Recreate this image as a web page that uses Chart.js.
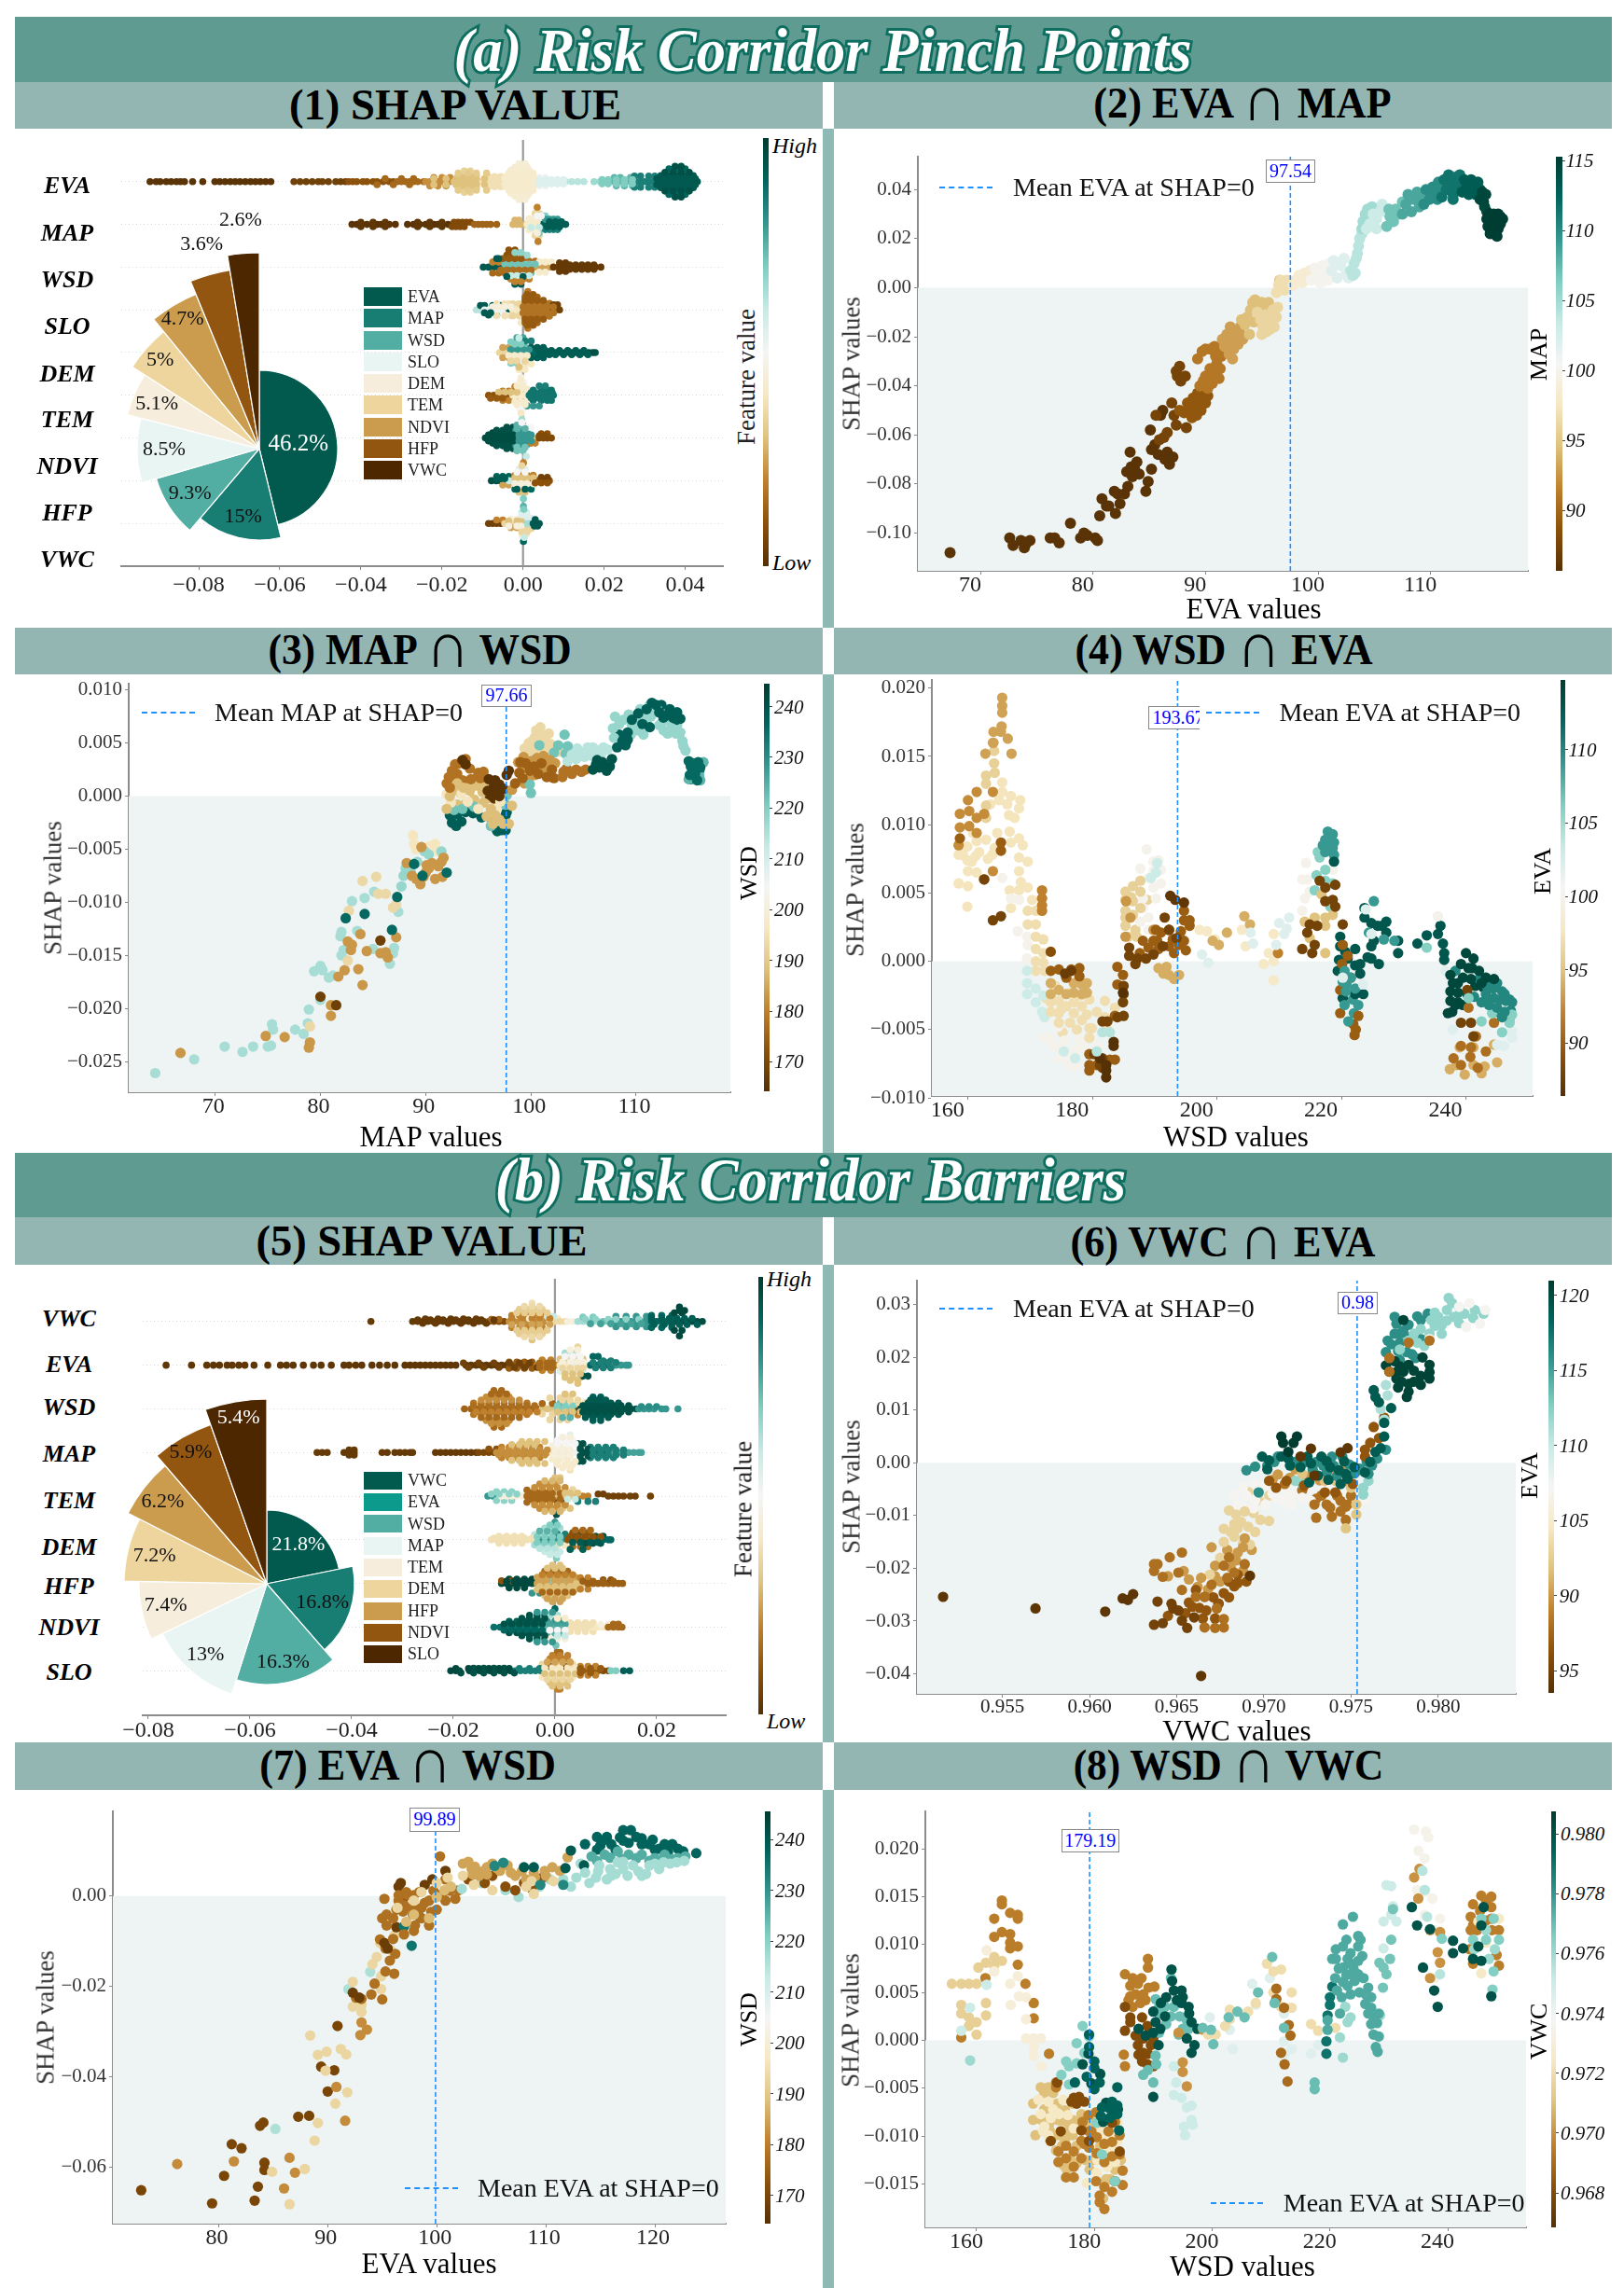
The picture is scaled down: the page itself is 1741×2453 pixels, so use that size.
<!DOCTYPE html>
<html><head><meta charset="utf-8"><title>Risk Corridor SHAP</title>
<script src="https://cdn.jsdelivr.net/npm/chart.js@4/dist/chart.umd.min.js"></script>
<style>html,body{margin:0;background:#fff}#page{position:relative;width:1741px;height:2453px;overflow:hidden;background:#fff}canvas{position:absolute}div.a{position:absolute}</style>
</head><body><div id="page"></div>
<script>
// ---------- data ----------
const featA=['EVA','MAP','WSD','SLO','DEM','TEM','NDVI','HFP','VWC'];
const shareA=[46.2,15,9.3,8.5,5.1,5,4.7,3.6,2.6];
const radiiA=[84,98,115,131,146,162,179,194,210];
const yLabA=['EVA','MAP','WSD','SLO','DEM','TEM','NDVI','HFP','VWC'];
const featB=['VWC','EVA','WSD','MAP','TEM','DEM','HFP','NDVI','SLO'];
const shareB=[21.8,16.8,16.3,13,7.4,7.2,6.2,5.9,5.4];
const radiiB=[79,94,108,124,137,153,167,181,198];
const yLabB=['VWC','EVA','WSD','MAP','TEM','DEM','HFP','NDVI','SLO'];
const swarmTicksA=[-.08,-.06,-.04,-.02,0,.02,.04];
const swarmTicksB=[-.08,-.06,-.04,-.02,0,.02];
// swarm groups: [colour fraction, row offset, shap values...]
const S1=[
[[.01,0,-.092,-.0905,-.0895,-.088,-.0868,-.0855,-.0845,-.0835,-.0815,-.079,-.076,-.0748,-.0735,-.0722,-.071,-.0698,-.0685,-.0672,-.066,-.0648,-.0635,-.0622],[.05,0,-.0565,-.055,-.0535,-.052,-.0505,-.0495,-.048,-.0462,-.045,-.0438],[.1,0,-.043,-.042,-.041,-.0395,-.0385,-.037,-.036,-.0345,-.033,-.032],[.15,0,-.031,-.03,-.029,-.028,-.027,-.026,-.0245],[.15,.07,-.034,-.03,-.027],[.15,-.07,-.036,-.032,-.028],[.22,0,-.024,-.023,-.022,-.021,-.02,-.019,-.018],[.22,.1,-.022,-.02,-.018],[.22,-.1,-.023,-.021,-.019],[.3,0,-.017,-.016,-.015,-.014,-.013,-.012,-.011],[.3,.13,-.016,-.0145,-.013,-.0115],[.3,-.13,-.016,-.0145,-.013,-.0115],[.34,.25,-.0145,-.013],[.34,-.25,-.0145,-.013],[.38,0,-.01,-.009,-.008,-.007,-.006,-.005],[.38,.12,-.0085,-.007,-.0055],[.38,-.12,-.0085,-.007,-.0055],[.42,0,-.004,-.003,-.002,-.001,0,.001,.002],[.42,.13,-.004,-.0025,-.001,.0005,.002],[.42,-.13,-.004,-.0025,-.001,.0005,.002],[.43,.27,-.003,-.0015,0,.0015],[.43,-.27,-.003,-.0015,0,.0015],[.44,.42,-.001,.0005],[.44,-.42,-.001,.0005],[.52,0,.003,.004,.005,.006,.007,.0085],[.52,.1,.0025,.004,.0055],[.52,-.1,.0025,.004,.0055],[.62,0,.009,.0105,.012,.0135,.015],[.66,0,.0175,.019,.0205,.0215],[.74,0,.0225,.0235,.0245,.0255,.0265,.0275],[.74,.1,.0225,.024,.0265],[.74,-.1,.023,.025,.027],[.85,0,.028,.029,.03,.031,.032,.033],[.85,.13,.0275,.029,.031,.0325],[.85,-.13,.0275,.029,.031,.0325],[.93,0,.034,.035,.036,.037,.038,.039,.04,.041,.042,.043],[.93,.14,.034,.036,.038,.04,.042],[.93,-.14,.034,.036,.038,.04,.042],[.9,.3,.036,.038,.04],[.9,-.3,.036,.038,.04]],
[[.01,0,-.0422,-.041,-.0398,-.0385,-.0372,-.036,-.035,-.034,-.033,-.0315,-.0285,-.027,-.0255,-.024,-.023,-.022,-.021,-.02,-.0185],[.08,.05,-.017,-.016,-.015,-.014,-.013],[.08,-.05,-.0175,-.0165,-.0155,-.0145],[.14,0,-.012,-.011,-.01,-.009,-.008,-.0065],[.28,0,-.0025,-.0015,-.0005,.0005],[.28,.1,-.002,-.001],[.42,0,.001,.002,.003],[.42,.13,.0015,.003],[.42,-.13,.0015,.003],[.35,.26,.003,.004],[.35,-.26,.003,.004],[.2,.4,.0035],[.2,-.4,.0037],[.7,.2,.004,.005,.0055],[.7,-.2,.004],[.92,0,.0045,.0055,.0065,.0075,.0085,.0095,.0105],[.8,.12,.0055,.0065,.0075,.0085],[.85,-.12,.0055,.0065,.0075,.0085]],
[[.93,0,-.0098,-.0085,-.0072,-.006,-.005],[.2,.12,-.0075,-.006,-.0045],[.15,-.14,-.0075,-.006,-.0045,-.003],[.1,.28,-.004,-.0025,-.001],[.72,0,-.004,-.003,-.002,-.001,0,.001,.002],[.16,.14,-.003,-.0015,0,.0015,.003],[.72,-.14,-.0025,-.001,.0005,.002],[.66,.28,.0005,-.0005,.001],[.2,-.28,-.003,-.0015,0,.0015],[.93,-.4,-.002,-.0005],[.1,.4,-.0035,-.002],[.92,-.06,-.003,-.001,.001],[.62,.06,-.0005,.001,.0025],[.25,0,.0025,.0035,.0045,.0055,.0065],[.42,.12,.004,.0055,.007],[.42,-.12,.004,.0055],[.03,0,.0075,.0088,.0098,.0108,.0118,.0128,.0138,.0148,.0158,.0168,.0178,.0192],[.03,.1,.009,.0105],[.03,-.1,.009,.0105]],
[[.62,0,-.0115,-.0105],[.93,.1,-.0105,-.0095,-.0075,-.0055],[.93,-.12,-.0085,-.0065],[.52,0,-.0095,-.0085,-.0075,-.0065,-.0055,-.0045],[.38,.14,-.0065,-.0045,-.0035],[.38,-.14,-.0065,-.0045,-.003],[.93,.02,-.0035],[.4,0,-.0025,-.0015,-.0005,.0005],[.35,.14,-.0025,-.001,.0005],[.35,-.14,-.0025,-.001,.0005],[.4,-.3,-.0005,.001],[.17,0,.001,.002,.003,.004,.005,.006],[.17,.15,.0005,.002,.0035,.005,.0065],[.17,-.15,.0005,.002,.0035,.005,.0065],[.14,.3,.0005,.002,.0035],[.14,-.3,.0005,.002,.0035],[.18,.43,.0012],[.18,-.43,.0012],[.05,0,.007,.008,.009],[.05,.12,.0075,.0085]],
[[.35,0,-.0058,-.0045,-.0035,-.0025,-.0015],[.25,.12,-.005,-.0035,-.002],[.25,-.12,-.005,-.0035,-.002],[.7,.25,-.003,-.0015],[.7,-.25,-.003,-.0015],[.66,0,-.001,0,.001],[.72,.13,-.001,.0005],[.5,-.13,-.001,.0005],[.78,.35,-.0015,0],[.4,-.4,-.001,.0005],[.85,.27,.0005,.002],[.4,-.27,.0005,.002],[.9,0,.002,.003,.004,.005,.006,.007,.008],[.92,.12,.002,.0035,.005],[.92,-.12,.002,.0035,.005],[.95,0,.0085,.0095,.0105,.0115,.0122,.0132,.0142,.0152,.0162,.0172,.0178]],
[[.1,0,-.0085,-.0072,-.006,-.0048,-.0035],[.2,.1,-.005,-.0035,-.002],[.2,-.12,-.005,-.0035,-.002],[.42,0,-.0025,-.0015,-.0005,.0005],[.42,.15,-.002,-.0005,.001],[.42,-.15,-.002,-.0005,.001],[.5,.3,-.001,.0003],[.5,-.3,-.001,.0003],[.45,.42,-.0005],[.4,-.42,-.0005],[.2,.2,-.002],[.87,0,.0015,.0025,.0035,.0045,.0055,.0065,.0075],[.87,.12,.0025,.0045,.006,.007],[.87,-.12,.0025,.0045,.006,.007],[.8,-.25,.001,.0025,.004]],
[[.96,0,-.0093,-.008,-.007,-.006,-.005,-.004,-.003,-.002],[.96,.12,-.0075,-.006,-.0045,-.003],[.96,-.12,-.0075,-.006,-.0045,-.003],[.95,.25,-.004,-.0025],[.95,-.25,-.004,-.0025],[.8,0,-.001,0,.001,.0018],[.8,.15,-.002,-.0005,.001],[.8,-.15,-.002,-.0005,.001],[.75,.3,-.0015,0],[.72,-.3,-.0015,0],[.65,.43,-.0003],[.6,-.43,.0008],[.5,.25,.001,.002],[.3,0,.0025,.0035],[.2,-.12,.002,.003],[.08,0,.004,.005,.006,.007],[.1,.1,.0045,.006]],
[[.95,0,-.0078,-.0066,-.0056,-.0045],[.9,.1,-.0065,-.005,-.0035],[.25,-.1,-.005,-.0035],[.6,0,-.0035,-.0025],[.3,0,-.0015,-.0005,.0005,.0015],[.2,.13,-.002,-.0005,.001,.0025],[.4,-.13,-.002,-.0005,.001,.0025],[.55,.27,-.001,.0005],[.3,-.27,-.001,.0005],[.2,.42,.0001],[.7,-.42,.0001],[.9,-.2,-.002,.002],[.1,0,.0025,.0035,.0045,.0055,.0065],[.05,.08,.0045,.006]],
[[.05,0,-.0085,-.0075,-.0065,-.0055],[.2,.08,-.0065,-.005],[.35,0,-.0045,-.0035,-.0025,-.0015,-.0005],[.45,.1,-.003,-.0015],[.25,-.1,-.003,-.0015],[.55,.12,-.0003,.0008,.002],[.35,-.12,-.0003,.0008,.002],[.6,.26,-.0003,.0008],[.42,-.26,-.0003,.0008],[.75,.4,.0001],[.9,-.42,.0001],[.65,0,.0005,.0015],[.93,0,.0025,.0033,.004],[.93,.09,.003]]
];
const S1x=[
[[.3,.07,-.022,-.019,-.0165,-.0155,-.0135,-.0115,-.0095],[.3,-.07,-.022,-.019,-.0165,-.0155,-.0135,-.0115,-.0095],[.32,.2,-.016,-.0135,-.0115,-.009],[.32,-.2,-.016,-.0135,-.0115,-.009],[.42,.07,-.0045,-.003,-.0015,0,.0015,.003],[.42,-.07,-.0045,-.003,-.0015,0,.0015,.003],[.42,.2,-.0035,-.002,-.0005,.001,.0025],[.42,-.2,-.0035,-.002,-.0005,.001,.0025],[.43,.34,-.002,-.0005,.001],[.43,-.34,-.002,-.0005,.001],[.55,.05,.004,.0055,.007,.0085,.01],[.55,-.05,.004,.0055,.007,.0085,.01],[.7,.05,.0195,.021,.023,.025,.027],[.7,-.05,.0195,.021,.023,.025,.027],[.93,.07,.033,.035,.037,.039,.041,.0425],[.93,-.07,.033,.035,.037,.039,.041,.0425],[.95,.22,.035,.037,.039,.041],[.95,-.22,.035,.037,.039,.041],[.95,.36,.0375,.039],[.95,-.36,.0375,.039]],
[[.02,.05,-.04,-.037,-.034,-.026,-.023,-.02],[.02,-.05,-.04,-.037,-.034,-.026,-.023,-.02],[.42,.07,.002,.0035],[.6,-.07,.002,.004],[.5,.2,.0035,.0045],[.45,-.2,.0035],[.92,.06,.0065,.008,.0095],[.92,-.06,.006,.0075,.009]],
[[.72,.07,-.0045,-.003,-.0015,0,.0015,.003],[.16,-.07,-.0055,-.004,-.0025,-.001,.0005,.002],[.12,.2,-.005,-.0035,-.002,-.0005],[.6,-.2,-.003,-.0015,0,.0015],[.93,.2,-.0065,-.006],[.93,-.22,-.004,0],[.68,.34,-.002,-.0005],[.2,-.34,-.002,-.0005],[.03,.05,.0115,.013,.0145,.016,.0175],[.03,-.05,.0115,.013,.0145,.016,.0175]],
[[.17,.07,0,.0015,.003,.0045,.006,.0075],[.17,-.07,0,.0015,.003,.0045,.006,.0075],[.12,.22,.0005,.002,.0035,.005],[.12,-.22,.0005,.002,.0035,.005],[.12,.36,.001,.0025],[.12,-.36,.001,.0025],[.45,.07,-.0075,-.006,-.0045,-.003],[.93,-.07,-.0095,-.008]],
[[.8,.07,-.003,-.0015,0,.0015],[.42,-.07,-.0035,-.002,-.0005,.001],[.7,.2,-.002,-.0005],[.35,-.2,-.003,-.0015,.0005],[.6,.34,-.001],[.3,-.34,-.001],[.92,.05,.004,.0055,.007,.009,.011,.013,.015],[.92,-.05,.005,.0065,.008,.01,.012,.014,.016]],
[[.3,.07,-.006,-.0045,-.003,-.0015],[.12,-.07,-.008,-.0065,-.005],[.42,.22,-.0015,0],[.42,-.22,-.0015,.0005],[.42,.36,-.0005],[.87,.06,.002,.003,.0045,.006,.0072],[.87,-.06,.002,.0035,.0055,.0068],[.85,.22,.004,.0055]],
[[.96,.07,-.0085,-.007,-.0055,-.004,-.0025],[.96,-.07,-.0085,-.007,-.0055,-.004,-.0025],[.95,.18,-.0065,-.005,-.0035],[.95,-.18,-.0065,-.005,-.0035],[.8,.07,-.001,.0005,.002],[.8,-.07,-.001,.0005,.002],[.75,.22,-.0015,.0005],[.72,-.22,-.0015,.0005],[.5,.36,-.0003],[.08,.05,.004,.0055]],
[[.92,.05,-.0065,-.0055,-.0045],[.3,.07,-.002,-.0005,.001,.0025],[.45,-.07,-.002,-.0005,.001,.0025],[.5,.2,-.0015,.0005],[.92,-.2,-.0015,.0005],[.35,.35,-.0003],[.1,-.05,.003,.0045,.006]],
[[.3,.06,-.0035,-.0015,-.0005],[.45,-.06,-.0035,-.0015,-.0005],[.55,.2,-.0003,.001],[.35,-.2,-.0003,.001],[.7,.33,.0002],[.6,-.33,.0003],[.93,-.06,.0028,.0036]]
];
const S5=[
[[.03,0,-.0362],[.03,0,-.028,-.027,-.026,-.025,-.024,-.023,-.022,-.021,-.02,-.019,-.018,-.017,-.016,-.015,-.014],[.03,.06,-.0255,-.023,-.0205,-.018,-.0155],[.08,0,-.013,-.012,-.011,-.01],[.15,.05,-.0125,-.011],[.22,0,-.009,-.008,-.007,-.006,-.005,-.004,-.003,-.002],[.2,.14,-.0085,-.007,-.0055,-.004,-.0025],[.2,-.14,-.0085,-.007,-.0055,-.004,-.0025],[.33,.28,-.007,-.0055,-.004,-.0025],[.33,-.28,-.007,-.0055,-.004,-.0025],[.38,.42,-.0045],[.3,-.42,-.0045],[.4,.07,-.005,-.003,-.001,.0005],[.36,0,-.001,0,.001,.002],[.6,.12,-.0015,-.0003],[.45,0,.0025,.0035],[.65,0,.0045,.0055,.0065,.0075,.0085],[.7,.1,.0055,.0075],[.72,0,.0095,.0105,.0115],[.8,0,.012,.013,.014,.015,.016,.017,.018],[.8,.12,.012,.014,.016,.018],[.8,-.12,.012,.014,.016,.018],[.9,0,.019,.02,.021,.022,.023],[.9,.14,.019,.021,.023],[.9,-.14,.019,.021,.023],[.96,0,.024,.025,.026,.027,.028,.029],[.97,.2,.0235,.025],[.97,-.2,.0235,.025],[.97,.33,.0245],[.97,-.33,.0245]],
[[.02,0,-.0765,-.0715,-.0685,-.0672,-.066,-.0645,-.0635,-.0622,-.061,-.0592,-.0565,-.054,-.0528,-.0515,-.0495,-.0475,-.046,-.044,-.0415,-.0405,-.0392,-.038,-.036,-.0345,-.033,-.0315,-.0295,-.0285,-.0275,-.0265,-.0255,-.0245,-.0235,-.0225,-.0215,-.0205,-.0195,-.0175,-.0165,-.0155,-.0145,-.0135,-.0125,-.0115,-.0105,-.0095],[.06,0,-.0085,-.0075,-.0065,-.0055,-.0045],[.12,.07,-.009,-.0075,-.006,-.0045],[.12,-.07,-.009,-.0075,-.006,-.0045],[.2,0,-.0035,-.0025,-.0015,-.0005,.0002],[.2,.12,-.0025,-.0008],[.2,-.12,-.0025,-.0008],[.4,0,.001,.002,.003,.004],[.3,.14,.001,.0025,.004,.0055],[.55,-.14,.001,.0025,.004,.0055],[.65,.28,.002,.0035],[.3,-.28,.002,.0035,.005],[.35,.42,.0045],[.3,-.42,.0045],[.4,0,.005,.006],[.55,.06,.005,.0035],[.95,-.25,.0065,.0055],[.9,.2,.0075,.0085],[.9,0,.007,.008,.009,.01],[.85,.1,.0095,.011],[.8,0,.011,.012,.013,.014,.0145]],
[[.14,0,-.0178,-.0165,-.0155,-.0145,-.0135,-.0125,-.0115,-.0105,-.0095,-.0085,-.0075,-.0065,-.0055,-.0045,-.0035],[.18,.13,-.016,-.0145,-.013,-.0115,-.01,-.0085,-.007,-.0055],[.18,-.13,-.016,-.0145,-.013,-.0115,-.01,-.0085,-.007,-.0055],[.22,.27,-.0135,-.012,-.0105,-.009],[.22,-.27,-.0135,-.012,-.0105,-.009],[.15,.42,-.012,-.0105],[.15,-.42,-.012,-.0105],[.3,0,-.0025,-.0015,-.0005],[.15,.12,-.0025,-.0005],[.35,-.12,-.0025,-.0005,.001],[.35,.25,-.001,.001,.0025],[.35,-.25,-.001,.001,.0025],[.7,0,.0005,.0015,.0025],[.75,.12,.001,.0025],[.3,0,.0035,.0045],[.38,.14,.003,.0045,.006],[.2,-.14,.003,.0045,.006],[.05,-.05,.004],[.95,0,.005,.006,.007,.008,.009,.01,.011,.012,.013,.014,.015,.016],[.93,.13,.0065,.008,.0095,.011,.0125],[.93,-.13,.0065,.008,.0095,.011,.0125],[.92,.27,.0075,.009],[.92,-.27,.0075,.009],[.8,0,.0165,.0175,.0185,.0195,.021,.0218],[.8,0,.0242]],
[[.03,0,-.0468,-.0458,-.0448,-.0415,-.0405,-.0395,-.0398,-.034,-.033,-.0315,-.0305,-.0295,-.0285,-.028,-.0235,-.0225,-.0215,-.0205,-.0195,-.0185,-.0175,-.0165,-.0155],[.03,.06,-.0405,-.0395],[.03,-.06,-.0405,-.0395],[.07,0,-.015,-.014,-.013,-.012],[.1,.08,-.013,-.0115],[.22,0,-.0115,-.0105,-.0095,-.0085,-.0075,-.0065,-.0055,-.0045,-.0035,-.0025,-.0015],[.2,.12,-.0105,-.009,-.0075,-.006,-.0045,-.003],[.2,-.12,-.0105,-.009,-.0075,-.006,-.0045,-.003],[.3,.25,-.0065,-.005,-.0035,-.002],[.3,-.25,-.0065,-.005,-.0035,-.002],[.42,0,-.0005,.0005,.0015,.0025],[.45,.15,-.0005,.001,.0025],[.42,-.15,-.0005,.001,.0025],[.5,.28,.0005,.002,.0035],[.42,-.28,.0005,.002,.0035],[.55,.4,.003],[.38,-.4,.003],[.52,0,.0035,.0045],[.95,.2,.0045,.0055],[.95,-.2,.0048,.0055],[.95,0,.0055,.0065,.0075],[.88,0,.0085,.0095,.0105],[.85,.12,.007,.0085,.01,.0115],[.85,-.12,.007,.0085,.01,.0115],[.78,0,.0115,.0125,.0135,.0145,.0155,.0165,.017]],
[[.8,0,-.0132,-.0122],[.68,.1,-.0115,-.01,-.0085],[.68,-.1,-.0115,-.01,-.0085],[.45,0,-.0105,-.0095,-.0085,-.0075,-.0065],[.15,0,-.0055,-.0045,-.0035,-.0025,-.0015,-.0005],[.15,.14,-.0055,-.004,-.0025,-.001],[.15,-.14,-.0055,-.004,-.0025,-.001],[.22,.28,-.003,-.0015,0],[.22,-.28,-.003,-.0015,0],[.3,.42,0,.001],[.95,-.42,.0003],[.3,0,.0005,.0015,.0025,.0035],[.35,.15,.0005,.002,.0035],[.03,-.15,.0005,.002],[.3,-.28,.0015,.003],[.2,0,.0045,.0055,.0065],[.85,-.12,.0045,.0065,.008],[.05,.05,.0085,.0095],[.05,0,.0105,.0115,.0125,.0135,.0148,.0158,.0188]],
[[.38,0,-.0125,-.0115,-.0105,-.0095,-.0085,-.0075,-.0065,-.0055,-.0045,-.0035],[.38,.08,-.011,-.0095,-.008,-.0065],[.38,-.08,-.011,-.0095,-.008,-.0065],[.62,.12,-.004,-.0025,-.001],[.65,-.12,-.004,-.0025,-.001],[.8,0,-.0025,-.0015,-.0005,.0005,.0015],[.65,.27,-.002,-.0005,.001],[.6,-.27,-.002,-.0005,.001],[.8,.4,0],[.7,-.42,.0003],[.85,.13,.0005,.002,.0035],[.4,-.13,.0005,.002,.0035],[.1,0,.0025,.0035,.0045,.0055,.0065,.0075],[.1,.16,.0035,.005,.0065],[.15,-.16,.0035,.005,.0065],[.95,-.08,.006,.0075,.009],[.95,.08,.0045,.008,.0095],[.9,0,.0085,.0095,.0105,.011]],
[[.97,0,-.0105,-.0095,-.0085,-.0075,-.0065,-.0055,-.0045],[.97,.1,-.009,-.0075,-.006,-.0045],[.97,-.1,-.009,-.0075,-.006],[.1,.06,-.0105,-.0085],[.8,-.22,-.0045,-.003],[.25,0,-.0035,-.0025,-.0015,-.0005,.0005,.0015,.0025],[.25,.14,-.0035,-.002,-.0005,.001,.0025,.004],[.3,-.14,-.0035,-.002,-.0005,.001,.0025,.004],[.15,.28,-.002,-.0005,.001,.0025],[.3,-.28,-.002,-.0005,.001,.0025],[.3,.42,-.0005,.001],[.25,-.42,-.0005,.001],[.7,.07,-.001,.0015],[.3,0,.0035,.0045,.0055],[.2,.13,.005,.0065],[.2,-.13,.005,.0065],[.13,0,.0065,.0075,.0085,.0095,.0105,.0115,.0125,.0133],[.1,.08,.0095,.011]],
[[.88,0,-.012,-.0108,-.0095,-.0085,-.0075,-.0065,-.0055,-.0045,-.0035],[.92,.13,-.009,-.0075,-.006,-.0045,-.003],[.95,-.13,-.009,-.0075,-.006,-.0045,-.003],[.95,.27,-.005,-.0035,-.002],[.95,-.27,-.005,-.0035,-.002],[.75,0,-.0025,-.0015,-.0005,.0005,.0015],[.8,.14,-.0015,0,.0015],[.75,-.14,-.0015,0,.0015],[.65,.27,-.001,.0005],[.45,-.27,-.001,.0005,.002],[.9,.42,0],[.72,-.42,.0002],[.38,0,.0025,.0035,.0045,.0055,.0065],[.38,.1,.003,.0045,.006,.0075],[.38,-.1,.003,.0045,.006,.0075],[.4,0,.0075,.0085,.0095],[.45,.06,.009,.0105],[.15,0,.0105,.0115,.0125,.0132],[.15,.07,.0115,.0125]],
[[.97,0,-.0205,-.0195,-.0188,-.0168,-.0158,-.0148,-.0138,-.0128,-.0118,-.0108,-.0098,-.0088],[.85,0,-.0078,-.0068,-.0058,-.0048,-.0038,-.0028],[.95,.06,-.016,-.014,-.012,-.01],[.42,0,-.002,-.001,0,.001,.002,.003,.004],[.35,.15,-.0025,-.001,.0005,.002,.0035],[.4,-.15,-.0025,-.001,.0005,.002,.0035],[.2,.27,-.001,.0005,.002],[.3,-.27,-.001,.0005,.002],[.15,.42,.0005,.001],[.2,-.42,.0005,.001],[.05,.1,-.001,.002],[.12,0,.0045,.0055,.0065,.0075,.0085],[.2,.1,.005,.0065,.008],[.2,-.1,.005,.0065,.008],[.08,0,.0095,.0105],[.7,0,.011,.012],[.92,0,.0135,.0147]]
];
const S5x=[
[[.2,.07,-.0085,-.0065,-.0045,-.003,-.001],[.25,-.07,-.0085,-.0065,-.0045,-.003,-.001],[.33,.2,-.0075,-.006,-.0045,-.003,-.0015],[.33,-.2,-.0075,-.006,-.0045,-.003,-.0015],[.36,.35,-.006,-.0045,-.003],[.36,-.35,-.006,-.0045,-.003],[.03,.04,-.027,-.0245,-.022,-.0195,-.017,-.0145,-.012],[.03,-.04,-.026,-.0235,-.021,-.0185,-.016,-.0135],[.68,.05,.006,.008,.0105,.012,.014,.0165],[.78,-.05,.007,.009,.011,.013,.015,.017],[.92,.07,.019,.021,.0225,.024,.0255,.027],[.92,-.07,.0195,.0215,.023,.0245,.026,.028],[.97,.25,.0245,.0255]],
[[.05,.05,-.018,-.015,-.012,-.009,-.007,-.005],[.05,-.05,-.017,-.014,-.011,-.008,-.006,-.0035],[.15,.05,-.003,-.0015,-.0005],[.15,-.05,-.003,-.0015,-.0005],[.45,.07,.0015,.003,.0045,.0055],[.35,-.07,.0015,.003,.0045,.0055],[.5,.2,.002,.0035,.005],[.3,-.2,.002,.0035,.005],[.45,.35,.003,.0045],[.3,-.35,.003,.0045],[.85,.06,.0075,.009,.0105,.012],[.85,-.06,.008,.0095,.011]],
[[.16,.07,-.016,-.0145,-.013,-.0115,-.01,-.0085,-.007,-.0055,-.004],[.2,-.07,-.0155,-.014,-.0125,-.011,-.0095,-.008,-.0065,-.005,-.0035],[.22,.2,-.0145,-.013,-.0115,-.01,-.0085,-.007],[.15,-.2,-.0145,-.013,-.0115,-.01,-.0085,-.007],[.15,.34,-.0125,-.011,-.0095],[.22,-.34,-.0125,-.011,-.0095],[.7,.07,.0005,.002,.0035],[.3,-.07,.0005,.002,.0035,.005],[.35,.2,.0015,.003,.0045],[.75,-.2,.0015,.003],[.3,.34,.002,.0035],[.95,.07,.0055,.007,.0085,.01,.0115,.013,.0145],[.95,-.07,.0055,.007,.0085,.01,.0115,.013,.0145],[.93,.2,.007,.0085,.01],[.93,-.2,.006,.0075,.009,.0105],[.82,.05,.017,.0185,.02]],
[[.22,.06,-.0105,-.009,-.0075,-.006,-.0045,-.003,-.0015],[.22,-.06,-.011,-.0095,-.008,-.0065,-.005,-.0035,-.002],[.3,.18,-.0085,-.007,-.0055,-.004],[.3,-.18,-.0085,-.007,-.0055,-.004],[.45,.07,0,.0015,.003],[.45,-.07,0,.0015,.003],[.5,.2,.0005,.0025,.004],[.42,-.2,.0005,.0025,.004],[.45,.35,.0015,.003],[.42,-.35,.0015,.003],[.95,.08,.005,.0065],[.95,-.08,.005,.0065],[.85,.06,.0075,.009,.0105,.012,.0135],[.85,-.06,.0075,.009,.0105,.012,.0135]],
[[.15,.07,-.005,-.0035,-.002,-.0005,.001],[.15,-.07,-.005,-.0035,-.002,-.0005,.001],[.22,.2,-.004,-.0025,-.001,.0005,.002],[.22,-.2,-.004,-.0025,-.001,.0005,.002],[.28,.35,-.002,-.0005,.001],[.28,-.35,-.002,-.0005,.001],[.3,.07,.002,.003,.0045],[.6,-.07,.0025,.004],[.68,.05,-.0125,-.011,-.009,-.0075]],
[[.38,.04,-.012,-.0105,-.009,-.0075,-.006,-.0045],[.7,.07,-.0035,-.002,-.0005,.001],[.7,-.07,-.0035,-.002,-.0005,.001],[.75,.2,-.003,-.0015,0],[.62,-.2,-.003,-.0015,0],[.7,.34,-.001,.0005],[.6,-.34,-.001,.0005],[.1,.07,.003,.0045,.006,.0075,.009],[.93,-.06,.0035,.005,.007,.0085],[.15,.22,.004,.0055,.007],[.92,-.22,.003,.0055]],
[[.97,.05,-.0095,-.008,-.0065,-.005],[.25,.07,-.003,-.0015,0,.0015,.003],[.3,-.07,-.003,-.0015,0,.0015,.003],[.2,.2,-.0025,-.001,.0005,.002,.0035],[.15,-.2,-.0025,-.001,.0005,.002,.0035],[.3,.35,-.0015,0,.0015],[.25,-.35,-.0015,0,.0015],[.13,.05,.0055,.0075,.0095,.0115]],
[[.95,.07,-.01,-.0085,-.007,-.0055,-.004,-.0025],[.9,-.07,-.01,-.0085,-.007,-.0055,-.004,-.0025],[.95,.2,-.0065,-.005,-.0035,-.002],[.95,-.2,-.0065,-.005,-.0035,-.002],[.8,.34,-.0035,-.002,-.0005],[.8,-.34,-.0035,-.002,-.0005],[.78,.07,-.001,.0005,.002],[.5,-.07,-.001,.0005,.002],[.42,.2,.0005,.002],[.6,-.2,.0005,.002],[.38,.05,.0035,.0055,.007]],
[[.97,.05,-.0195,-.017,-.015,-.013,-.011,-.009],[.95,-.05,-.0185,-.016,-.014,-.012,-.01,-.008],[.85,.05,-.007,-.005,-.003],[.4,.07,-.002,-.0005,.001,.0025,.004],[.3,-.07,-.002,-.0005,.001,.0025,.004],[.25,.2,-.0015,0,.0015,.003],[.35,-.2,-.0015,0,.0015,.003],[.2,.35,-.0005,.001,.0025],[.3,-.35,-.0005,.001,.0025],[.12,.05,.005,.007,.009],[.12,-.05,.005,.007]]
];
// scatter groups: [colour value, [x,y,x,y...]]
const P2=[
[86,[67.3,-.108,72.6,-.102,72.9,-.105,73.6,-.103,73.9,-.106,74.1,-.104,74.4,-.103,76.2,-.102,76.6,-.102,77,-.104,78,-.096,78.9,-.102,79.2,-.1,79.5,-.101,80.2,-.102,80.4,-.103,80.6,-.093,80.8,-.086,81.2,-.089,81.4,-.089,81.9,-.083,82,-.092,82.2,-.084,82.4,-.088,82.8,-.084,83,-.075,83.1,-.081,83.3,-.067,83.4,-.073,83.5,-.077,83.7,-.074,83.9,-.071,84.1,-.076,84.7,-.083,84.9,-.079,85.2,-.074,85.1,-.058,85.2,-.066,85.5,-.064,85.8,-.068,86,-.052,86.2,-.05,86.4,-.07,86.6,-.067,86.8,-.072,87.1,-.069]],
[87.5,[85.6,-.052,85.9,-.062,86.3,-.061,86.6,-.059,87,-.047,87.2,-.052,87.4,-.056,87.4,-.034,87.5,-.036,87.7,-.032,87.8,-.038,88.2,-.036,88.3,-.057]],
[89,[87.7,-.05,88.1,-.051,88.4,-.047,88.6,-.05,88.8,-.053,89,-.048,89.2,-.052,89.4,-.046,89.6,-.05,89.8,-.045,90,-.047,90.2,-.044,88.9,-.045,89.3,-.043,89.7,-.042]],
[91,[89.5,-.04,89.8,-.038,90,-.036,90.2,-.041,90.4,-.033,90.6,-.039,90.8,-.036,91,-.031,91.2,-.037,91.3,-.033,90.9,-.028,91.1,-.025,89.3,-.029,89.7,-.026,90,-.025,90.4,-.025,90.8,-.024,91.4,-.028]],
[93,[91.5,-.021,91.7,-.024,91.9,-.019,92.1,-.027,92.2,-.022,92.4,-.018,92.5,-.025,92.7,-.02,92.9,-.023,93,-.018,93.1,-.016,92.2,-.016,93.3,-.021,92.4,-.029]],
[94.5,[93.2,-.013,93.5,-.015,93.7,-.012,93.9,-.019,94,-.009,94.2,-.006,94.4,-.005,94.3,-.014,94.7,-.007,95,-.006,95.3,-.008,95.6,-.006,96.6,.003]],
[96,[94.6,-.01,94.9,-.013,95.1,-.016,95.3,-.011,95.5,-.014,95.7,-.017,95.9,-.012,96,-.009,95,-.019,95.4,-.018,96.1,-.016,96.3,-.012,96.4,-.008]],
[96.8,[96.3,-.002,96.5,.001,96.7,.003,97,-.001,97.2,.003,96.9,.002,97.4,.002]],
[98.5,[97.8,.001,98,.003,98.3,.005,98.6,.002,98.8,.006,99.1,.004,99.3,.007]],
[100,[99.4,.003,99.7,.008,99.9,.005,100.2,.002,100.4,.009,100.6,.006,100.9,.003,101,.01]],
[102,[101.2,.007,101.4,.011,101.7,.004,102,.009,102.3,.012,102.5,.006,102.7,.004]],
[104,[102.9,.007,103.1,.005,103.2,.01,103.3,.006,103.4,.012,103.5,.014,103.6,.017,103.7,.02,103.9,.022]],
[105,[103.9,.024,104,.027,104.2,.03,104.4,.032,104.6,.028,104.8,.033]],
[103,[104.3,.024,104.6,.026,104.9,.03,105.2,.028,105.5,.031,105.7,.034,105.2,.024,106,.031]],
[107,[106.1,.025,106.4,.029,106.7,.027,106.9,.032,107.2,.03,107.5,.035,106.3,.032]],
[108.5,[107.5,.03,107.8,.034,108,.038,108.3,.031,108.5,.036,108.8,.039,109,.033,109.2,.037]],
[110,[109.4,.034,109.6,.04,109.9,.036,110.2,.041,110.4,.038,110.7,.043,110.9,.04,110.6,.036]],
[111.5,[111,.037,111.2,.044,111.4,.04,111.6,.046,111.8,.042,112,.038,112.2,.045,112.4,.041,112,.036,112.6,.046]],
[113,[112.8,.039,113,.044,113.2,.041,113.4,.038,113.6,.044,113.8,.041,114,.038,114.2,.043,114.4,.04]],
[114.5,[114.4,.036,114.6,.039,114.7,.035,114.9,.038,114.8,.033,115,.031]],
[115.2,[115,.028,115.2,.03,115.4,.027,115.6,.03,115.8,.028,116,.03,116.2,.029,116.4,.028,115.1,.025,115.4,.024,115.7,.023,116,.024,116.2,.026,115.6,.026,115.3,.022,115.9,.021]]
];
const P3=[
[188,[92.6,.0005,93.3,.0003,94.6,-.0003,95.5,-.0006,96.2,-.0002,93.8,-.0007,94.2,.0012,92.5,-.0012,93,-.0008,95.7,.0015,96.8,-.0007]],[165,[96,.0002,96.5,-.0002,96.8,.0005,95.5,.0012,96.3,.0013,97.2,.0003,96.6,.0015]],[178,[92,.0012,93,.0021,93.5,.0015,94.7,.0016,92.8,.0017]],[183,[99.2,.0026,99.8,.0016,100.4,.002,100.9,.0027,101.4,.0026,102,.0032,99.4,.0012,101.9,.0018]],[193,[100,.0042,100.5,.0062,101,.0049,101.3,.0047,102,.0041]],[218,[109.5,.0058,110.2,.0062,110.7,.0058,111.4,.0075,112.5,.007,113.3,.0069,113.9,.0067]],[238,[108.4,.0058,109.2,.0053,110.4,.0072,112.4,.0086,113.2,.0082,113.8,.0072]],[214,[104.4,.0045,105.4,.0046,106,.0041,106.7,.004]],[236,[115.2,.0016,115.5,.0031,116,.0024,115.7,.0018]],
[216,[64.3,-.0261,68,-.0248,70.9,-.0236,72.6,-.0241,73.6,-.0236,75,-.0236,75.3,-.0235,75.4,-.0215,75.5,-.022,77.6,-.022,78.4,-.0224,78.8,-.0214,78.9,-.0201,80,-.0192,79.4,-.0165,80,-.016,80.2,-.0164,80.8,-.0171,81.2,-.0169,82,-.015,82.2,-.0145,81.9,-.0132,82,-.0128,83.5,-.0127,83,-.0099,84.2,-.0096,85.1,-.009,85,-.0144,86.6,-.0158,86.9,-.0148,87,-.0143,87.4,-.0109]],
[183,[66.7,-.0242,74.8,-.0226,76.6,-.0227,79,-.0232,78.9,-.0237,81,-.0197,81,-.0207,83.6,-.0163,82.3,-.0164,81.7,-.017,82.9,-.0145,82.6,-.0137,83,-.014,83.8,-.013,84,-.0178,86.2,-.0147,86.4,-.0152,87.2,-.0133,84.4,-.0146,85.7,-.0148]],
[193,[79,-.0217,82.6,-.0155,82.7,-.0108,85.5,-.0092,86.2,-.0092,84,-.008,85.3,-.0076,86.9,-.0105,87.2,-.0102]],
[168,[80,-.0189,81.5,-.0197,85.7,-.0136]],
[236,[82.4,-.0115,84.2,-.0111,86.8,-.0126,87.3,-.0095]],
[196,[88.8,-.0037,88.9,-.0045,89.1,-.005,90.9,-.0045,91.2,-.0052,90.4,-.0047]],
[218,[87.7,-.0085,87.9,-.0075,88.1,-.0068,88.6,-.0072,89.2,-.0062,89.9,-.0052,91.5,-.0052,90.3,-.0055]],
[183,[88.2,-.0063,88.7,-.0075,89.1,-.0078,89.5,-.0083,89.8,-.0076,90,-.0072,90.3,-.0068,90.6,-.0063,90.9,-.0078,91.2,-.0066,91.5,-.0062,91.6,-.0076,89.6,-.0048,90.1,-.0065,91.7,-.0058]],
[236,[88.9,-.0064,89.7,-.0075,92,-.0072]],
[238,[92.3,-.0018,92.5,-.0025,92.9,-.0028,93.4,-.0024,93,-.0017,93.8,-.0015,94.5,-.0016,95.3,-.002,96,-.0019,96.8,-.0033,97.2,-.0032,97.6,-.0032,97.6,-.0018,97.7,-.0015]],
[222,[92.7,-.0013,93.5,-.0012,94.6,-.001,97.6,-.0008,97.7,.0001,96.2,-.0028]],
[196,[92,.0002,92.4,-.0006,93.4,.0002,94,-.0005,95,-.0012,96.7,-.0012,97.1,-.0005]],
[188,[92,-.0012,92.3,0,93,.0012,93.6,.0008,94.2,.0005,94.8,.001,95.4,.0004,95.9,.0009,96.2,-.0012,96.6,-.0018,97,-.0022,97.4,-.0026,95.8,-.0019,96.4,-.0026,95.3,.0012,97.9,-.0026,98.2,-.0009]],
[178,[92.2,.0018,92.5,.0024,92.8,.003,93.2,.0031,93.8,.0035,94.2,.0026,95,.0022,95.5,.0023,92.3,.0008,94.3,.0016,95.2,.0017]],
[165,[93.5,.0034,93.8,.003,96,.0016,96.5,.001,96.7,.0005,97,0,96.3,0,97,.0011,97.4,.0007,97.7,.002,97.9,.0024,96.4,.0006,95.9,.0005]],
[193,[99.4,.0045,99.8,.005,100.1,.0052,100.4,.0056,100.9,.0065,101,.0058,101.4,.0053,101.7,.0059,101.9,.0049,102.4,.0045,102.7,.0042,100.6,.0045]],
[222,[100,.0003,99.9,.0011,100.5,.0035,100.8,.0048,102.2,.0041,102.6,.0048,103.2,.0058,103.3,.004,103.5,.0047]],
[183,[98.2,.0006,98.8,.0032,99.3,.0037,100,.0033,100.6,.0036,101.2,.0038,101.8,.0034,102.3,.0031]],
[175,[98.5,.0012,98.9,.0022,99.2,.0017,99.5,.0031,99.9,.0024,100.3,.0028,100.7,.0021,101,.0031,101.5,.0018,102,.0025,102.2,.0017,99,.0032]],
[178,[103.1,.0023,103.4,.0026,103.9,.0021,104.3,.0025,104.8,.0023,105.2,.0025,103,.0018]],
[214,[103.5,.0033,103.9,.0039,104.3,.0035,104.7,.0042,105.1,.0037,105.5,.0041,105.9,.0046,106.4,.0043,106.9,.0046,107.3,.0044,105.8,.0038]],
[240,[105.9,.0025,106.2,.003,106.5,.0027,106.8,.0032,107.2,.0024,107.5,.0028,106.3,.0034,107.7,.0035]],
[218,[107.8,.0064,107.9,.0055,108,.0075,108.4,.0068,108.8,.0072,109.3,.0077,109.6,.0067,110,.007,110.4,.0082,110.8,.0075,111.3,.0086,111.6,.0078,112,.0082,112.2,.0067,112.6,.0062,113,.0059,113.4,.0064,113.8,.0059,114.2,.006,114.4,.0052,114.5,.0047,114.7,.0043,111,.0068,112.8,.0075]],
[238,[108.2,.0046,108.7,.0052,109,.0048,109.2,.006,109.6,.0072,110.2,.0078,110.6,.0068,111,.0082,111.5,.0088,111.9,.0086,112.2,.0079,112.6,.0074,113,.0077,113.5,.0074,113.9,.0079,114.2,.0073,111.3,.0065]],
[224,[115,.0016,115.3,.003,115.7,.0028,116,.0019,116.4,.0032,115.5,.0017,116.1,.0015]],
[236,[115,.0033,115.2,.0028,115.4,.0025,115.6,.0021,115.9,.0032,116.1,.0027,115.1,.002,115.8,.0015]]
];
const P4=[
[97.5,[159.2,.0078,160.6,.0073,161.8,.008,163.2,.0075,160.8,.0094,164.7,.0094,166.3,.0115,167.5,.0105,163.6,.0115,165,.0118,168.8,.0085,168.5,.0058,170.3,.0045]],
[97,[174,-.0018,175,-.0035,176.4,-.0045,178,-.0025,176.5,-.0023,175.2,-.0052,177.5,-.005,172.5,-.0027,179.5,-.0028]],
[100,[174.5,-.0048,175.5,-.0058,177.9,-.0057,172.8,-.0042,179.8,-.0068,181,-.0062]],
[114,[239.5,-.0012,240.2,-.0024,241.5,-.0018,239.5,-.0032,237.9,-.0016,241,-.0005,242.8,-.0019,237.8,-.0037]],
[110,[243,-.0017,244.4,-.002,246.2,-.0024,246.4,-.0029,244.6,-.0037,243.4,-.0027,241.3,-.0026,245.6,-.0028,247.2,-.0036]],
[90,[187.6,.0006,190.4,.0015,192.9,.0016,194.2,.0022,195,.0008]],
[96,[186.9,.0023,186.2,.0047,188.8,.0045,187.1,.0018]],
[109,[218.1,.009,217.6,.0083,218.6,.0083,220.8,-.0017,221.8,-.0028,222,-.0038]],
[113,[220.6,.0007,222.2,-.0003,224.2,.0003,226.5,.0026,225.2,.0015]],
[97.5,[158.5,.0078,159.9,.0084,161.4,.0088,162.9,.0089,164.3,.0083,159.9,.0074,161.2,.0077,163.9,.0078,166.7,.0095,168.2,.009,166.9,.0087,168.2,.0076,169.6,.0073,158.5,.0057,160,.0066,160,.0055,161.4,.0065,159.9,.004,168.2,.0066,166.7,.0052,169.6,.0054,168.2,.0052,166.9,.0039,165.5,.0124,166.9,.0121,168.4,.0118,168.2,.0112,166.6,.0107,165.5,.0131]],
[96,[164.2,.0154,164.2,.0145,164.3,.0138,162.9,.0136,162.9,.013,162.9,.0114,162.9,.0105]],
[93.5,[165.5,.0193,165.5,.0187,165.5,.0182,165.4,.0172,164.1,.0168,165.3,.0168,164.1,.016,166.4,.0163,164,.016,162.8,.0152,167,.0152]],
[92.5,[161.4,.0124,164,.0124,160,.0118,158.7,.0108,160.2,.011,161.4,.0105,162.6,.0108,158.7,.0098,160.2,.0099,161.4,.0094,158.5,.0085,164,.0066,162.6,.006]],
[90,[165.3,.0087,165.3,.0081,158.7,.009]],
[88,[164,.003,165.3,.0033,162.6,.006]],
[100,[165.5,.0061,166.9,.0046,168.2,.0045,168,.0022,169.5,.0018,169.6,.0012,169.5,.0002,172.3,-.0056,173.3,-.0056,173.7,-.0062,174.7,-.0063,174.7,-.0071,176.2,-.0076,177.2,-.0077,178.7,-.0063,177.2,-.0065,176.6,-.0068]],
[97,[169.6,.0037,170.9,.0037,169.6,.0027,170.9,.0027,170.9,.0018,172.1,.0016,170.9,.0009,172.1,.0006,170.9,0,172.1,-.0001,170.9,-.0007,172.3,-.0007]],
[92,[171.9,.0052,171.9,.0046,171.9,.0041,171.9,.0037]],
[89,[173.3,.0007]],
[103,[169.5,-.0007,169.5,-.0016,169.5,-.0024,170.9,-.002,172.1,-.0025,170.9,-.003,171.9,-.0037,172.3,-.0041,175.4,-.0066,177.2,-.0071]],
[97,[173.3,-.003,174.6,-.0029,173.3,-.0037,174.6,-.0038,175.8,-.0033,177,-.003,178.3,-.0033,179.1,-.0039,177,-.0038,174.6,-.0045,178.3,-.0043,179.5,-.0049]],
[94,[173.3,-.0016,173.3,-.0024,174.6,-.0021,175.8,-.0024,177,-.0016,178.3,-.0017,179.1,-.0016,177,-.0023,178.3,-.0024,179.1,-.0023]],
[90,[173.3,-.0007,174.6,-.0006,176.6,-.0006,177.9,-.0005,175.8,-.0012,177.9,-.0011]],
[87.5,[175.6,-.0009,176.6,-.0007]],
[97,[180.7,-.0037,182,-.0029,182,-.0041,179.9,-.0049,182.4,-.005,179.5,-.0056,183.6,-.0034]],
[90,[184,-.0004,184.9,-.001,184,-.0017,183.6,-.004,179.5,-.0068,179.5,-.0076,179.5,-.008,180.7,-.0076,182.8,-.0072,183.6,-.0072]],
[88,[185,-.0018,185,-.0024,184.9,-.003,185,-.004,184,-.0041,182.4,-.0044,181.6,-.0044,181.6,-.0071,181.2,-.0076,181.6,-.0078,180.3,-.0068]],
[86.5,[184.9,-.0023,183.4,-.0059,183.4,-.0062,182.2,-.0076,182.2,-.008,182.2,-.0085,181.2,-.0071]],
[104,[180.7,-.0066,182.8,-.0052,181.6,-.0052]],
[100,[187.7,.0068,189.8,.0073,190.6,.0074,188.7,.0082,189.8,.0066,191,.0067,189,.0061,189.8,.0054,191,.0057,188.1,.0046,188.1,.0039,189,.0032,187.7,.0029,189,.0023,190.2,.0046]],
[103,[189.4,.0061,190.2,.0065,190.4,.0072]],
[96,[185.3,.0051,185.3,.0045,185.3,.0037,185.3,.0032,185.3,.0026,186.5,.0055,187.7,.0059,187.7,.0051,186.5,.0044,186.5,.0034,187.7,.0039,185.7,.0018]],
[93,[185.4,.0044,186.1,.0032,185.3,.0018,189.8,.0023]],
[94,[190.6,-.0005,191.9,-.0004,192.3,-.001,193.1,-.0013,193.9,-.001,191.4,-.0009]],
[90,[188.1,.0015,189.8,.0015,191,.0021,192.3,.0023,190.2,.0023,189,.001,190.6,.0009,192.3,.0011,193.9,.0012,193.1,.0006,194.7,.0015,195.6,.0026,195.6,.003,194.7,.0037,194.7,.003]],
[88,[185.9,.001,185.9,.0004,187.2,.0002,186.9,-.0002,188.6,.0002,189.8,.0005,191.3,.0011,191.6,.0032,192.3,.0023,193.5,.0017]],
[87,[192.5,.0048,193.3,.0045,194.7,.0043]],
[98,[197.2,.0023,198.4,.0022,199.7,.0016,204,.0023,204.6,.0011,208.3,.0006,209.1,.002,207.5,-.0002,209.1,0,209.1,-.0014]],
[94,[199.3,.0015,200.3,.0012,201.6,.0021,204.4,.0033,205.3,.0027]],
[92,[209.8,.0006]],
[102,[197.6,.0005,198.6,-.0001,205.4,.0021,205.8,.0013,209.5,.0012,210,.0028,210.8,.002,211.6,.0032,211.2,.0024]],
[100,[213.7,.006,214.5,.006,214.3,.0072,214.1,.0046,213.7,.0037,214.9,.0051,218.6,.0067]],
[106,[216.2,.008,216.5,.0076,217.4,.0067,216,.0063,215.7,.0052,217.4,.0059,218.6,.0057,218.2,.004]],
[95,[214.9,.0017,217.4,.0026,217.4,.0032,218.6,.0034,217.4,.0006,214.1,.0029,215.7,.0032,216.8,.0049]],
[88,[213.7,.0009,214.9,.0027,215.3,.0006,215.7,.0012,214.5,.0021,216.1,.0026,216.5,.0059,217.4,.0054,219,.0056,218.6,.0045,217.4,.0044,219,.004,220.2,.0027]],
[109,[217.8,.0095,217.4,.0089,218.6,.0093,217,.0085,218.2,.0085,217.4,.008,218.8,.0087,218.8,.0078]],
[113,[218.8,.0073,219.8,.0018,219.8,.0011,219.6,.0001,221,.0002,222.2,.0009,219.4,-.0007,223,-.0002,223,-.0009,220.2,-.0027,222.2,-.0024,223.7,.0039,223.7,.0032,224.8,.0011,224.8,.0002,226,-.0002,225.8,.0026,227.2,.0029,227.2,.0021,229.1,.0015,229.1,.0006,224.8,.0028,223.5,-.0024]],
[90,[220.2,.0012,221,.0004,220.1,-.0002,221.5,-.0012,219.8,-.0021,219.8,-.0038,222.7,-.004,221.9,-.0046,222.3,-.005,222.1,-.0054]],
[109,[220.5,-.0007,220.2,-.0015,221.5,-.0012,222.2,-.002,220.7,-.0022,222.7,-.0032,220.5,-.0032,221.1,-.0044,224.4,.0021,226.8,.0016,228.5,.0015,225.2,.0044]],
[102,[223.9,.0038,224.8,.002,223.5,-.0017,220.2,-.0012]],
[113,[232.2,.0013,233.7,.0019,235.5,.002,235.9,.0026,236.3,.0013,236.5,.0006,236.5,.0001]],
[106,[233.7,.001]],
[100,[235.5,.0033]],
[94,[239,-.0063,237.4,-.0079,239.8,-.0083,241.2,-.0063,241.2,-.0076,243,-.0077,245,-.0074,247,-.0043,244.5,-.0061,242.5,-.0082,238.5,-.0076]],
[91,[241.6,-.0055,244.5,-.0045,240.4,-.0034,240.8,-.0063,238,-.0071,240.7,-.007,239.2,-.0062,243.2,-.0066,239.2,-.0076,241.9,-.0078]],
[88,[240.2,-.0021,239.2,-.0045,240.8,-.0045,241.2,-.0055]],
[102,[236.7,-.0007,237.9,-.005,247.4,-.0051,247.4,-.0056,245,-.0061,246.1,-.0062]],
[106,[240.4,-.0027,242.5,-.0044,247.4,-.0039,245.8,-.0052,247,-.0045,244.2,-.0038]],
[110,[238.3,-.0007,242.1,-.0013,243.7,-.0018,245,-.0016,245.8,-.0022,243.2,-.0024,244.5,-.0027,247,-.0028,247.4,-.003,242.5,-.003,245,-.0034,246.2,-.0037,245.8,-.0041,243.7,-.0032]],
[114,[240,.0006,241.2,.0002,239.2,-.0002,240.4,-.0005,242.1,-.0007,237.5,-.001,238.7,-.0016,240.8,-.0013,243.2,-.0012,237.5,-.0022,238.7,-.0023,237.5,-.0029,238.7,-.003,237.1,-.0038,238.3,-.0032,242.5,-.0016,244.5,-.0013]]
];
const P6=[
[100,[.9645,-.0215,.9662,-.0235,.9668,-.024,.9672,-.0215,.9675,-.0225,.9684,-.0185,.9679,-.0165,.9693,-.0165,.9688,-.0205]],
[96.5,[.9645,-.029,.9655,-.0285,.9665,-.0295,.9657,-.0265,.9663,-.0275,.9672,-.0295,.9671,-.0255,.968,-.0255,.968,-.0225,.9685,-.0212,.969,-.0225]],
[103,[.9675,-.018,.9683,-.014,.9692,-.0155,.9677,-.0125,.9694,-.0095,.9703,-.011,.9687,-.0112,.9683,-.0116,.9697,-.007,.968,-.009,.9691,-.0055,.9703,-.0062]],
[107,[.969,-.0062,.97,-.0045,.9705,-.0058,.9712,-.0048,.972,-.0055,.9726,-.0048,.9733,-.006,.974,-.0048,.9748,-.006,.9735,-.0045,.9752,-.0052,.9715,-.0062,.9758,-.007,.9683,-.006,.9694,-.0086]],
[100,[.9708,-.0022,.9715,-.0028,.9725,-.0028,.9732,-.0033,.974,-.0028,.9748,-.0035,.9705,-.0032,.9718,-.0012,.9728,-.0016,.9738,-.0018,.9745,-.0012]],
[98,[.9712,-.004,.9722,-.0052,.9733,-.0062,.9742,-.0062,.975,-.0062,.9738,-.0085,.973,-.0068,.9747,-.0083]],
[94,[.9516,-.0254,.9569,-.0276,.9609,-.0282,.9619,-.0257,.9622,-.026,.9625,-.0249,.9664,-.0404,.9692,-.0214]],
[95,[.9637,-.0307,.9642,-.0304,.9639,-.0263,.9647,-.0267,.9648,-.0276,.9651,-.028,.9656,-.0313,.9653,-.0299,.966,-.0293,.9674,-.0267]],
[96.5,[.9659,-.0273,.9666,-.0254,.9661,-.0241,.9667,-.028,.9674,-.0267,.9677,-.0247,.9683,-.0234,.9685,-.0228]],
[107,[.9685,-.0079,.9689,-.0085,.9695,-.0072,.9688,-.0047,.9695,-.004,.9701,-.0079,.9707,-.0066,.9711,-.0072,.9716,-.0079,.9722,-.0066,.9727,-.0072]],
[103,[.9669,-.0212,.9677,-.015,.9681,-.0131,.9685,-.0124,.9688,-.0153,.9691,-.0121,.9695,-.0131,.9684,-.0098,.9689,-.0092,.9698,-.0108]],
[100,[.9654,-.0205,.9657,-.0221,.9664,-.0218,.967,-.016,.9672,-.0195,.9685,-.017,.9681,-.0198,.9688,-.016,.9689,-.0143]],
[98,[.9637,-.0192,.9639,-.0192,.9637,-.0205,.9642,-.0216,.9646,-.0179,.9653,-.017,.9651,-.0208,.9661,-.0254,.9653,-.0241,.9666,-.0312,.9672,-.0313,.9677,-.0312,.9677,-.0296,.9673,-.0276,.9666,-.0254,.967,-.0231,.9677,-.0195,.968,-.0179,.9679,-.0218,.9683,-.0208,.9689,-.0192,.9729,-.0079,.9736,-.0079,.9744,-.0072,.9748,-.0079,.9739,-.0102,.973,-.0104,.9747,-.0108,.9744,-.0092]],
[102,[.9722,-.0021,.9735,-.0034,.9741,-.0034,.975,-.0047,.9753,-.0079,.9753,-.0098,.9747,-.0124]],
[112,[.9718,-.0034,.9722,-.004,.9757,-.006,.9757,-.0047,.976,-.0034]],
[96.5,[.9703,-.0034,.9707,-.0047,.9713,-.0034,.9723,-.0043,.9735,-.0056,.9741,-.0056,.9751,-.004,.9754,-.0014]],
[116,[.9708,.0012,.9722,.0008,.9728,-.0012,.9739,.0012,.9745,.0012,.9749,-.0003,.9752,-.002,.9742,-.0025,.9736,-.0018,.9762,-.0005,.9765,.0008,.977,.0025]],
[116,[.9695,-.0007,.9702,-.0005,.9706,.0002,.9718,.0002,.9724,.0002,.973,.0002,.9734,-.0005,.974,-.0005,.9755,-.0011,.9759,.0002,.976,-.0021,.9697,-.0056,.969,-.0014]],
[119,[.9702,-.0012,.9714,.0008,.9725,.0012,.9736,.0003,.9746,.0003,.9758,-.0018,.9748,-.003,.9737,-.0032]],
[119,[.9699,.0012,.9703,.0005,.971,.0012,.9715,-.0005,.9721,-.0008,.9727,-.0001,.9733,.0012,.9738,-.0008,.9743,-.0014,.9747,-.0021,.9752,-.0008,.9744,-.004,.9726,-.0037,.9731,-.0024]],
[121,[.971,.005,.9711,.0038,.9717,.0038,.9719,.005,.9714,.0021]],
[94,[.9727,.0027,.9744,.002,.9748,.0028,.9721,.0012,.9729,-.0024]],
[96.5,[.9758,.0012,.9763,.0068,.9769,.0086,.9758,.0025,.9761,.0038,.9766,.0047]],
[111,[.977,.0148,.9767,.0102,.9771,.0128,.9769,.0082]],
[119,[.9763,.0138,.9764,.0125,.9766,.0115,.9773,.0104,.9769,.0076,.9769,.005,.9767,.0028,.9764,.0021,.9761,.0002]],
[116,[.9778,.0245,.9783,.0262,.9788,.0278,.9771,.0232,.977,.021,.9778,.0195,.9782,.021,.979,.0235]],
[116,[.9775,.0277,.9776,.0264,.9773,.0225,.9777,.0212,.9775,.0245,.978,.0251,.9794,.0283,.979,.0271,.9783,.0238,.9785,.0206,.9778,.0228,.9787,.0199,.9775,.0193]],
[112,[.9798,.026,.9795,.0245,.9805,.027,.9812,.0265,.982,.0275,.9812,.028,.9798,.0285,.9783,.0232,.9778,.0215]],
[120.5,[.9777,.0143,.9783,.015,.979,.0165,.9786,.0175,.9778,.0183,.977,.0185,.9776,.0172,.9795,.0172,.9782,.0125]],
[120.5,[.9772,.0173,.9776,.016,.978,.0173,.9783,.0135,.9786,.0154,.979,.0148,.9795,.016,.9775,.0193,.9783,.0186,.9779,.0154,.9791,.02,.9795,.0186,.978,.0271]],
[112,[.9786,.0245,.979,.0254,.9796,.0271,.98,.0277,.9788,.0228,.9792,.0222,.9802,.0261,.9806,.0313,.9808,.0303,.9805,.029,.9809,.0277,.9815,.0283,.9821,.029,.9826,.0283,.9802,.0245,.9812,.0295]],
[107,[.9795,.0235,.9818,.0303,.9816,.0258,.9824,.0264,.9812,.0296,.9827,.029]],
[98,[.9772,.0199,.9772,.0173,.9783,.0228,.9795,.0232]]
];
const P7=[
[170,[72.9,-.0652,79.4,-.0681,80.5,-.062,81.2,-.055,82.1,-.0559,83.3,-.0675,83.6,-.0644,83.8,-.0509,84.1,-.0502,84.2,-.0591,84.2,-.0607,87.3,-.0489,88.3,-.0487,90,-.0433,90.9,-.0288,89.4,-.0378,90.6,-.0386]],
[182,[76.2,-.0594,81.4,-.0588,86,-.0648,86.5,-.058,87,-.0613,90.8,-.0423,91.6,-.0498,93.1,-.028,93,-.0308,93.6,-.0296]],
[193,[84.9,-.0611,86.5,-.0683,87.9,-.0605,88.8,-.0542,89.1,-.0503,88.4,-.0309,89.1,-.0352,89.9,-.0345,91.2,-.0339,91.7,-.0351,91.8,-.0435,90.7,-.046,89.8,-.0387]],
[216,[85.2,-.0516,91.9,-.0206,93.9,-.0168]],
[193,[92.3,-.019,92.3,-.0245,93.1,-.0241,93.1,-.0257,94.1,-.0151,94.5,-.0135,94.9,-.0178,94.9,-.0206,94.8,-.0104,95.8,-.012,96.1,-.0088]],
[178,[92.6,-.0225,93.1,-.0228,94,-.0218,94.3,-.0194,95,-.0229,95.3,-.0167,96.1,-.0172,96.2,-.0128,95,-.0049,95.2,-.0006,95.4,-.0041,94.8,-.0096,95.3,-.0116,95.7,-.0143]],
[168,[92.3,-.0214,92.9,-.0225,95.5,-.0116,95.2,-.0104,96.3,-.0069,98.4,-.0045,96.7,.0029,96.5,.0021,96.9,-.0006,98.9,.0025,99.6,.0037,100.8,.0056]],
[235,[97.7,-.011,97,-.0067]],
[178,[97,-.002,97.8,-.004,98.3,-.003,98.9,-.0015,99.5,-.0035,96.3,-.003,97.3,.0002,99.7,.0012,100.5,.0005,101.2,.0012,98,-.0065,97,-.0085,96,-.0095]],
[178,[95.4,-.0065,96,-.0049,96.5,-.001,96.9,-.0034,97.7,-.0026,97.9,.0002,97.9,-.0077,98.6,-.0049,98.6,-.0026,99.3,-.001,99.3,-.0065,100,-.003,100.8,-.001,100.3,.0088,100.8,.0037,101.7,-.0006,102,.0013,96.5,.0002,97.2,.0009,98.4,.0009]],
[193,[96.4,-.0026,97.9,-.001,98.6,.0009,100,.0029,101,.0041]],
[188,[97.2,-.0057,97.9,-.0041,99.3,-.0049,100,-.0002,100.7,.0013,101.3,.0021]],
[217,[102.3,.0016,104.1,.0029,106.3,.0013,107.5,-.0002,109.4,.0021,110.4,.0037,111.6,.0037,112.8,.0041,114,.0029,114.6,.0041,112.3,.0021,113.2,.0072]],
[172,[102.9,.0037,103.6,.0049,104.4,.0029,105.1,.0045,106.3,.0021,107.2,.0013,108,.0029,108.7,.0017,109.7,.0041]],
[185,[103.5,.0065,104.2,.0055,105.5,.0062,106.8,.0052,107.8,.0055,109,.0042,110,.0045,103.3,.0048,104.6,.0048]],
[185,[102.4,.0072,102.9,.0076,103.2,.006,103.9,.0045,104.6,.0064,105.1,.0072,105.8,.0056,106.5,.0068,107.2,.0045,108.2,.0037,108.9,.0052,109.9,.0056,110.6,.0064,111.3,.0056,112,.0086]],
[193,[102.4,.0045,103.4,.0025,105.1,.0013,108.7,.0033,108.9,.0005,110.7,.0033,108.2,.0021]],
[232,[105.3,.0067,106.1,.0074,109.5,.0025,111.6,.0025]],
[240,[108,.0064,108.9,.0064,111.8,.0062,112.3,.0101,113.5,.0068]],
[238,[116,.0115,116.8,.013,118.8,.0128,119.8,.0125,120.4,.0105,121.2,.0098,122.1,.0105,117.6,.0118,115,.0112]],
[238,[113.6,.0115,114.7,.0103,115.6,.0131,116.4,.0103,117.1,.0146,117.8,.0146,118.3,.0131,117.1,.0123,119.5,.0115,120,.0103,120.9,.0115,121.6,.0115,122.6,.0099,123.8,.0095,115.2,.0123,118.8,.0115,114.7,.0131]],
[226,[114.7,.0078,115.9,.0085,117,.0082,119.5,.0078,120.5,.0078,121.5,.0082]],
[226,[115.4,.0092,116.6,.0099,117.6,.0092,118.8,.0092,120,.0084,120.9,.0092,122.1,.0084,122.8,.0088,114.2,.0088,118.3,.0084]],
[217,[113.6,.0052,114.8,.0055,116,.0045,117.5,.0045,118.5,.0055,118.8,.0045,120,.0072,120.8,.0075,122,.0075,122.7,.0078,116.6,.0075]],
[217,[115.6,.0037,116.4,.0049,115.9,.006,117.1,.006,118,.0068,119.2,.0049,119.5,.0068,120.4,.006,121.4,.0072,114.9,.0068,117.1,.0076]]
];
const P8=[
[.9715,[155.8,.0059,157.4,.0059,158.7,.0059,160,.0059,157.4,.0037,157.4,.0028,158.7,.0024,158.7,.0015,160,.0019,160,.0006,161.6,.0026,161.6,.0039,160.3,.0076,161.6,.0081,163,.0087,163,.0078,164.3,.0083]],
[.9695,[164.3,.0146,164.3,.0142,163,.0127,165.7,.0133,167,.0131,167,.0127,163,.0108,164.3,.0113,165.7,.0111,165.7,.0102,165.7,.0096,167,.0098,161.5,.0065,157.4,.0003,167,.0079,168.3,.0059,169.7,.0039,169.7,.0023]],
[.973,[161.7,.0094,163,.0072,165.7,.0059,165.8,.0037,167,.0067,167.2,.0046,168.4,.0045,168.4,.0022,168.4,.0002,169.7,.0002,170.9,.0002,169.7,-.0007,169.7,-.0016,171,-.0027]],
[.975,[157.4,.001,158.9,.0034,161.7,.0058]],
[.976,[158.9,-.0021]],
[.971,[171.5,-.0055,173,-.0055,171.5,-.0072,174.5,-.0085,172.5,-.0095,175.8,-.0085,177,-.0085,175.8,-.0098,178.5,-.009,179.5,-.0085,174.5,-.011,177,-.011,172.5,-.0105,178.5,-.0125,179.8,-.0125,181,-.011,182.5,-.0115,182,-.0145,179.2,-.0135,176,-.0125,174.7,-.013,173.5,-.0115,175.3,-.0135,177,-.0128,181.5,-.0165,183.5,-.0135,184.5,-.0125,182.7,-.0145]],
[.971,[170.9,-.0049,172.2,-.0049,169.6,-.0066,169.6,-.0083,170,-.0099,171,-.0083,172.3,-.0071,172.3,-.0088,173.7,-.0066,173.7,-.0083,173.7,-.0099,175,-.0073,175,-.009,175,-.0105,176.3,-.0066,176.3,-.0083,176.3,-.0099,177.8,-.0077]],
[.9725,[170.5,-.0062,171.5,-.009,173,-.0072,174.7,-.0062,175.5,-.0078,180.5,-.0125,181.8,-.0118,183,-.0112,183.7,-.0098,181,-.0095,182.3,-.0102]],
[.9725,[170.9,-.0077,172.2,-.0064,172.6,-.0081,171.3,-.0095,174,-.0077,174.3,-.0094,172.2,-.0099,176.5,-.0092,178.7,-.0149,180.4,-.0138,182.2,-.0132,183.5,-.0127,183.9,-.0105,183.9,-.0086]],
[.9695,[178,-.0085,179.5,-.0095,181,-.0085,179,-.0078,180.3,-.0075,178.3,-.0108,182.4,-.0095,183.5,-.0085]],
[.9695,[173.5,-.0049,173.5,-.0044,172.3,-.0014,173.9,-.0116,175.2,-.011,173.9,-.0127,175.2,-.0123,176.5,-.0116,176.5,-.0132,175.2,-.0143,176.5,-.0143,177.8,-.0105,177.8,-.0123,179.1,-.0095,179.1,-.0112,180.4,-.0101,180.4,-.0118,181.7,-.0108,181.7,-.0127,183,-.0106,183,-.0121,184.3,-.0099,184.3,-.0119,184.8,-.0136,184.8,-.0151,183,-.0158,180.9,-.0162,180.9,-.0169,181.7,-.0176,181.7,-.0153,180.3,-.0147]],
[.968,[176.5,-.006,177.4,-.0059,176.1,-.0064,177,-.0066,178.3,-.0064,172.6,-.0105,174.3,-.0095,177.8,-.0094,179.1,-.0105,183,-.0086,183,-.0079,184.3,-.0116,183.5,-.0147,173.7,-.0044]],
[.9765,[175.2,-.0022,175.7,-.0027,177,-.0003,178,.0015,179.1,.0004,177,-.0024,174.4,-.0036,175.7,-.0046,178.3,-.0013,180.4,-.0086,181.3,-.0119,183.5,-.0147]],
[.98,[178,-.0025,179.5,-.0045,181,-.0035,182,-.0065,183,-.0065,184,-.0072,181.5,-.0085,183,-.0072,179,-.0014]],
[.9795,[179.1,.0006,179.1,-.0007,180,-.0022,180,-.0029,178.7,-.0038,180.9,-.0044,180,-.0051,176.7,-.0044,183.9,-.0049,181.3,-.007,182.6,-.0071,183.9,-.0068,181.1,-.0079,182.6,-.0081,183.9,-.0077,183,-.0064,184.2,-.0094]],
[.9695,[186.5,.0065,188,.0065,189.2,.0055,187,.0048,188.7,.0042,185.8,.0042]],
[.9695,[189.1,.0085,189.1,.0076,185.2,.0069,186.1,.0057,187.4,.0059,186.1,.0046,188.3,.0048,186.5,.0035,190.2,.0056,187.8,.0039,185,-.0015,185.2,-.0027]],
[.968,[187,.0005,189,.0015,190,.0002,189,-.0025,187.5,-.0015]],
[.968,[185.2,.0035,186.1,.0024,186.1,.0019,185.2,.001,188.1,.0024,189.1,.0006,188.3,.0002,187.4,-.0005,189.6,-.0005,188.3,-.0013,189.1,-.0014,188.1,-.0022,190,-.0027]],
[.975,[193.5,-.0027,193.9,-.0044,193.5,-.0057,194.8,-.006,195.7,-.007,196.5,-.0068,196.7,-.0088,195.2,-.009,195.4,-.0099,196.5,-.0083]],
[.977,[191,.0035,192,.0035,193,.0025,194.5,.0025,195,.0012,196,.0012,190.5,-.0025,191,.0008]],
[.977,[190,-.0044,188.3,-.0036,189.1,-.0031,190.4,.0043,190.9,.0028,192.2,.0017,193,.0065,193.5,.0035,194.3,.0006,195.7,.0021,190.4,-.0016]],
[.98,[187.5,.0012,188.7,.0005,192,.0025,193.2,.0062,194,.0042,195,.0045,196,.0035,197.5,.0012,191.2,.0012,190,.0008]],
[.98,[193.1,.0074,193.5,.0052,192.2,.0045,194.8,.0052,194.8,.0039,190,.003,191.3,.0039,190,-.0059,190.4,.0019,196.1,.0028,196.5,.0019,195.7,.0002,197,-.0005,196.5,-.0013,190.9,-.0005]],
[.97,[195,-.0023,195,-.0033,195.7,-.0048,194.3,.0008,198.5,.0011]],
[.9745,[199.6,.0024,203,.0011,203.5,-.0009,206.8,.0059,207.4,.0037,209.8,.0065,212.2,.0028,212.2,-.0001,213.5,-.0009,212.4,-.0014,216.8,-.0014,218,-.0005]],
[.972,[199.3,.0006,200.6,.0006,202.2,.0015,203,.0032,203,.0022,206.1,.003,207.4,.0039,209.3,.008,210.4,.0072,211.7,.0074,210.4,.005,213.5,.005,213.5,.0034,211.7,.0035,216.8,.0017,218,.001,220.9,.0013]],
[.969,[210.9,.0054,210.9,.0043,212.2,.0034,213,.0016,213.3,.0005,211.7,-.0013,212.3,-.0025,212.8,-.0043]],
[.977,[198.4,.0013,199.8,.0011,200.2,-.0004,202.8,.0024,204.3,.003,205.5,.0024,207.8,.005,210.2,.0087,210.6,.0039,212.2,.0013,217.4,-.0044,217.4,-.0051]],
[.976,[222.6,.0035,223,.0019,223.5,.0024,221.7,.0003,222.2,-.0018,228.5,.0026]],
[.979,[220.4,.0056,220,.0045,220,.0037,219.6,.0026,219.4,-.0001,219.4,-.0014]],
[.9775,[221,.0085,221.5,.0075,221,.0095,222.8,.0105,223,.0085,224,.0075,225.2,.0105,225.5,.0088,224.2,.0062,222.8,.0068,221.2,.0052,222,.0045,223.5,.0048,225,.005,226,.0038,228,.0018,226.5,.0055]],
[.9775,[219.6,.0021,219.6,.0011,222.2,.0098,220.4,.0085,222.2,.0076,220.9,.0065,222.2,.0061,223.5,.0091,223.5,.008,223.5,.0069,224.8,.0109,224.8,.0098,224.8,.0083,224.8,.0069,223.9,.0129,222.2,.0121,225.7,.0065,227,.0045,226.1,.0048,227,.0034,227.4,.0024,228.3,.0028,227,.0017,227.4,.0006,228.3,.0004,227.8,-.0007,228.1,-.0012,226.5,.0028,223,.0057,221.7,.0028]],
[.975,[229.6,.0162,230.4,.0161,230.7,.014,229.1,.0124,231.3,.0124,230.4,.0131,229.1,.0096]],
[.9768,[230.4,.0105,230.2,.0085,228.4,.0081,229.1,.0076,229.6,.0069,229,.0055,230.7,.0137]],
[.9735,[234.3,.022,236.3,.0218,236.7,.0212,235,.0198,236.1,.019,234.8,.0157,236.1,.0155,237.4,.0148,236.1,.0131,238.7,.0127,237.8,.0115,237.8,.0065]],
[.97,[234.3,.017,235.2,.0179,235,.0148,237,.0115,238.7,.0113,238.3,.0092,238.7,.0081,237,.0065]],
[.9755,[235.7,.0177,236.1,.0157,236.5,.0129,238.7,.0069]],
[.9695,[245,.0115,246.5,.0125,247.5,.0115,243.7,.0095,245.5,.0135]],
[.9695,[245.7,.0151,247.4,.015,246.5,.0146,244.3,.0142,243.9,.0129,243.9,.0115,247.4,.0139,247.4,.0127,248.7,.0115,248.3,.0089,248.7,.0078,244.3,.008,244.3,.012]],
[.9725,[245.2,.0124,245.7,.007,248.7,.0127,246.5,.0102]],
[.976,[244.5,.0095,246.5,.0115,248,.0095,247,.0085]],
[.9765,[239,.0106,244.3,.0105,245.7,.0127,246.5,.0105,247.8,.0127,248.7,.0105,247.8,.0072,247.6,.0053]],
[.98,[233.9,.0139,234.8,.012,237,.0116,235.8,.0076,237.7,.0052,238.3,.0035,240.9,.0104,240.9,.0091,242.6,.0096,244.3,.0085,245.2,.0098,245.7,.0083,246.1,.0139,245.7,.012,247.4,.0046]]
];
// ---------- helpers ----------
const FONT="'Liberation Serif'";
Chart.defaults.font.family=FONT;Chart.defaults.animation=false;
const page=document.getElementById('page');
const STOPS=[[84,48,5],[140,81,10],[191,129,45],[223,194,125],[246,232,195],[245,245,245],[199,234,229],[128,205,193],[53,151,143],[1,102,94],[0,60,48]];
function brbg(t){t=Math.max(0,Math.min(1,t))*10;const i=Math.min(9,Math.floor(t)),f=t-i,a=STOPS[i],b=STOPS[i+1];return `rgb(${a.map((v,k)=>Math.round(v+(b[k]-v)*f)).join(',')})`;}
const GRAD='linear-gradient(to top,'+STOPS.map(s=>`rgb(${s.join(',')})`).join(',')+')';
function box(x,y,w,h,bg,extra){const d=document.createElement('div');d.className='a';d.style.cssText=`left:${x}px;top:${y}px;width:${w}px;height:${h}px;background:${bg};${extra||''}`;page.appendChild(d);return d;}
function T(s,x,y,o){o=o||{};const d=document.createElement('div');d.className='a';if(o.html)d.innerHTML=o.html;else d.textContent=s;const ax=o.ax===undefined?-50:o.ax;
d.style.cssText=`left:${x}px;top:${y}px;white-space:nowrap;line-height:1;font-family:${FONT};font-size:${o.size||20}px;font-style:${o.it?'italic':'normal'};font-weight:${o.b?'bold':'normal'};color:${o.c||'#000'};${o.css||''}`;
page.appendChild(d);let sx=1;if(o.w)sx=o.w/d.offsetWidth;d.style.transform=`translate(${ax}%,-50%) rotate(${o.rot||0}deg) scale(${sx},1)`;return d;}
function fmt(v,dec){return (v<0?'\u2212':'')+Math.abs(v).toFixed(dec);}
function mkCanvas(x,y,w,h){const c=document.createElement('canvas');c.width=Math.round(w);c.height=Math.round(h);c.style.cssText=`left:${x}px;top:${y}px;width:${Math.round(w)}px;height:${Math.round(h)}px`;page.appendChild(c);return c;}
function colorbar(x0,x1,y0,y1,o){box(x0,y0,x1-x0,y1-y0,GRAD);if(!o)return;
o.vals.forEach((v,i)=>{const y=y1-(v-o.vmin)/(o.vmax-o.vmin)*(y1-y0);box(x1,y-.5,3,1,'#444');T(o.labels?o.labels[i]:String(o.dec?v.toFixed(o.dec):v),o.lx,y,{ax:0,it:1,size:o.size||21,c:'#111'});});}
function meanLegend(x0,x1,y,tx,text){box(x0,y-1,x1-x0,0,'none','border-top:2.5px dashed #1e90ff');T(text,tx,y,{ax:0,size:28,c:'#111'});}
function valBox(x0,x1,y0,y1,text,clip){const d=box(x0,y0,x1-x0,y1-y0,'#fff',`box-sizing:border-box;border:1.5px solid #888;${clip?'border-right:none;':''}overflow:hidden;text-align:${clip?'left':'center'};color:#0000ff;font:20px/${y1-y0-3}px ${FONT};white-space:nowrap;${clip?'padding-left:4px;':''}`);d.textContent=text;}
const bandPlugin={id:'band',beforeDatasetsDraw(c){const a=c.chartArea,y=c.scales.y.getPixelForValue(0);c.ctx.save();c.ctx.fillStyle='#eef4f4';c.ctx.fillRect(a.left,y,a.right-a.left,a.bottom-y);c.ctx.restore();}};
function axis(min,max,ticks,dec,size,afterFit,extra){return Object.assign({type:'linear',min,max,afterBuildTicks:s=>{s.ticks=ticks.map(v=>({value:v}));},afterFit,
 grid:{display:true,drawOnChartArea:false,drawTicks:true,tickLength:4,color:'#888'},border:{display:true,color:'#8c8c8c',width:2},
 ticks:Object.assign({autoSkip:false,maxRotation:0,color:'#222',padding:0,font:{size,lineHeight:1},callback:v=>fmt(v,dec)},extra||{})});}
function scatterPanel(o){const W=90,H=44,P=16,w=o.r-o.l,h=o.b-o.t;
 const cv=mkCanvas(o.l-W,o.t-P,W+w+P,P+h+H);const pts=[],cols=[];
 o.data.forEach(g=>{const t=(g[0]-o.cmin)/(o.cmax-o.cmin),col=brbg(t);for(let i=0;i<g[1].length;i+=2){pts.push({x:g[1][i],y:g[1][i+1]});cols.push(col);}});
 new Chart(cv,{type:'scatter',plugins:[bandPlugin],data:{datasets:[
  {data:[{x:o.mean,y:o.ymin},{x:o.mean,y:o.ymax}],showLine:true,borderColor:'#1e90ff',borderWidth:1.6,borderDash:[5,3],pointRadius:0},
  {data:pts,pointRadius:o.pr||5.6,pointBackgroundColor:cols,pointBorderWidth:0,showLine:false}]},
  options:{responsive:false,layout:{padding:{top:P,right:P,left:0,bottom:0}},plugins:{legend:{display:false},tooltip:{enabled:false}},
  scales:{x:axis(o.xmin,o.xmax,o.xt,o.xdec||0,o.xf||24,s=>{s.height=H;},{labelOffset:o.lo||0,padding:o.xp||0}),
          y:axis(o.ymin,o.ymax,o.yt,o.ydec,21,s=>{s.width=W;},{padding:3,color:'#333'})}}});
}
function swarmPanel(o){const W=40,H=44,P=2,w=o.r-o.l,h=o.b-o.t;const cv=mkCanvas(o.l-W,o.t-P,W+w+P,P+h+H);const pts=[],cols=[];
 o.rows.forEach((groups,row)=>groups.forEach(g=>{const col=brbg(g[0]);for(let i=2;i<g.length;i++){pts.push({x:g[i],y:row-g[1]});cols.push(col);}}));
 new Chart(cv,{type:'scatter',data:{datasets:[{data:pts,pointRadius:3.8,pointBackgroundColor:cols,pointBorderWidth:0},
  {data:[{x:0,y:o.ymin},{x:0,y:o.ymax}],showLine:true,borderColor:'#9a9a9a',borderWidth:2.2,pointRadius:0}]},
  options:{responsive:false,layout:{padding:{top:P,right:P,left:0,bottom:0}},plugins:{legend:{display:false},tooltip:{enabled:false}},
  scales:{x:Object.assign(axis(o.xmin,o.xmax,o.xt,2,24,s=>{s.height=H;},{padding:o.xp}),{}),
   y:{type:'linear',reverse:true,min:o.ymin,max:o.ymax,afterBuildTicks:s=>{s.ticks=[0,1,2,3,4,5,6,7,8].map(v=>({value:v}));},afterFit:s=>{s.width=W;},
      ticks:{display:false},grid:{color:'#d8d8d8',drawTicks:false},border:{display:false,dash:[1,3]}}}}});
}
const piePlugin={id:'pieLabels',afterDatasetsDraw(c,a,opt){const ctx=c.ctx;ctx.save();ctx.textAlign='center';ctx.textBaseline='middle';
 c.getDatasetMeta(0).data.forEach((arc,i)=>{const p=arc.getProps(['x','y','startAngle','endAngle','outerRadius']),m=(p.startAngle+p.endAngle)/2,r=p.outerRadius*opt.frac[i];
 ctx.font=`${opt.sizes[i]}px ${FONT}`;ctx.fillStyle=opt.colors[i];ctx.fillText(opt.text[i]+'%',p.x+Math.cos(m)*r,p.y+Math.sin(m)*r);});ctx.restore();}};
function piePanel(o){const R=270,cv=mkCanvas(o.cx-R,o.cy-R,2*R,2*R),sum=o.shares.reduce((a,b)=>a+b,0);
 new Chart(cv,{type:'polarArea',plugins:[piePlugin],data:{labels:o.labels,datasets:[{data:o.radii,backgroundColor:o.colors,borderColor:'#fff',borderWidth:1.2,angle:c=>o.shares[c.dataIndex]/sum*360}]},
 options:{responsive:false,layout:{padding:0},scales:{r:{display:false,min:0,max:R,startAngle:0}},plugins:{legend:{display:false},tooltip:{enabled:false},pieLabels:{frac:o.frac,sizes:o.sizes,colors:o.tcolors,text:o.shares}}}});
 o.labels.forEach((n,i)=>{box(o.lgx,o.lgy[i]-o.lgh/2,41,o.lgh,o.lgc[i]);T(n,o.lgx+47,o.lgy[i],{ax:0,size:18,c:'#222'});});}
// ---------- frame ----------
const BAN='#5f9b91',SUB='#94b6b2';
box(882,88,12,2365,'#8fb9b5');
[[18,88],[1236,1305]].forEach(r=>box(16,r[0],1712,r[1]-r[0],BAN));
[[88,138],[673,723],[1305,1356],[1868,1919]].forEach(r=>{box(16,r[0],866,r[1]-r[0],SUB);box(882,r[0],12,r[1]-r[0],'#fff');box(894,r[0],834,r[1]-r[0],SUB);});
const bannerCss='-webkit-text-stroke:6px #0e6e60;paint-order:stroke fill;';
T('(a) Risk Corridor Pinch Points',882,54,{size:66,b:1,it:1,c:'#fff',w:791,css:bannerCss});
T('(b) Risk Corridor Barriers',869,1265,{size:66,b:1,it:1,c:'#fff',w:676,css:bannerCss});
const capSpan='<span style="font-size:1.5em;font-weight:normal;line-height:0;vertical-align:-.04em">\u2229</span>';
[['(1) SHAP VALUE',488,113,356],['(2) EVA \u2229 MAP',1332,111,319],['(3) MAP \u2229 WSD',450,697,325],['(4) WSD \u2229 EVA',1312,697,319],['(5) SHAP VALUE',452,1331,355],['(6) VWC \u2229 EVA',1311,1332,327],['(7) EVA \u2229 WSD',437,1893,318],['(8) WSD \u2229 VWC',1317,1893,333]].forEach(s=>T(s[0],s[1],s[2],{size:46,b:1,w:s[3],html:s[0].replace('\u2229',capSpan)}));
// ---------- panels 1 & 5 ----------
const COL_A=['#025a4e','#187d73','#52aea3','#e9f5f2','#f6eddc','#eed59e','#cb9c4e','#935610','#4d2700'];
swarmPanel({l:130,r:777,t:148,b:607,xmin:-.0991,xmax:.0493,ymin:-.978,ymax:9,rows:S1.map((r,i)=>r.concat(S1x[i])),xt:swarmTicksA,xp:5});
[199,250,300,350,401,450,500,550,600].forEach((y,i)=>T(yLabA[i],72,y,{size:26,b:1,it:1}));
piePanel({cx:278,cy:481,labels:featA,shares:shareA,radii:radiiA,colors:COL_A,frac:[.5,.77,.77,.78,.82,.88,.9,1.17,1.17],sizes:[25,22,22,22,22,22,22,22,22],tcolors:['#fff','#111','#111','#111','#111','#111','#111','#111','#111'],lgx:390,lgy:[318,341,364.5,387.6,411,434,458,481,504],lgh:20,lgc:COL_A});
colorbar(818,824,148,607);T('High',828,156,{ax:0,it:1,size:24});T('Low',828,603,{ax:0,it:1,size:24});T('Feature value',800,404,{rot:-90,size:27,c:'#222'});
swarmPanel({l:153,r:779.5,t:1369,b:1839,xmin:-.0811,xmax:.0336,ymin:-.979,ymax:9.02,rows:S5.map((r,i)=>r.concat(S5x[i])),xt:swarmTicksB,xp:1});
[1414,1463,1509,1559,1609,1659,1701,1745,1793].forEach((y,i)=>T(yLabB[i],74,y,{size:26,b:1,it:1}));
const COL_B5=['#025a4e','#187d73','#52aea3','#e9f5f2','#f6eddc','#eed59e','#cb9c4e','#935610','#4d2700'];
const LEG_B5=['#025a4e','#0b9a8b','#52aea3','#e9f5f2','#f6eddc','#eed59e','#cb9c4e','#935610','#4d2700'];
piePanel({cx:286,cy:1698,labels:featB,shares:shareB,radii:radiiB,colors:COL_B5,frac:[.68,.67,.8,.81,.81,.81,.85,.9,.91],sizes:[22,22,22,22,22,22,22,22,22],tcolors:['#fff','#111','#111','#111','#111','#111','#111','#111','#fff'],lgx:390,lgy:[1587,1610,1633.5,1657,1680,1703,1727,1750,1773],lgh:19,lgc:LEG_B5});
colorbar(813,818,1369,1838);T('High',822,1371,{ax:0,it:1,size:24});T('Low',822,1845,{ax:0,it:1,size:24});T('Feature value',797,1618,{rot:-90,size:27,c:'#222'});
// ---------- scatter panels ----------
const SV='SHAP values';
scatterPanel({data:P2,l:984.3,r:1637.8,t:167.5,b:611.6,xmin:64.44,xmax:118.65,ymin:-.1154,ymax:.0534,xt:[70,80,90,100,110],yt:[.04,.02,0,-.02,-.04,-.06,-.08,-.1],ydec:2,mean:97.54,cmin:85.7,cmax:115.3,pr:6,lo:-11});
meanLegend(1007,1064,201,1086,'Mean EVA at SHAP=0');valBox(1357,1410,171,196,'97.54');
T('EVA values',1344,652,{size:31});T(SV,912.5,390,{rot:-90,size:27,c:'#333'});T('MAP',1650,379.5,{rot:-90,size:26});
colorbar(1667.8,1674.7,167.5,611.6,{vmin:85.7,vmax:115.3,vals:[115,110,105,100,95,90],lx:1678.6});
scatterPanel({data:P3,l:138,r:783,t:732.5,b:1170,xmin:61.78,xmax:118.96,ymin:-.0279,ymax:.0106,xt:[70,80,90,100,110],yt:[.01,.005,0,-.005,-.01,-.015,-.02,-.025],ydec:3,mean:97.66,cmin:164.2,cmax:244.6,lo:-2});
meanLegend(151.5,209,764,230,'Mean MAP at SHAP=0');valBox(516,570,733.5,758,'97.66');
T('MAP values',462,1218,{size:31});T(SV,57,952,{rot:-90,size:27,c:'#333'});T('WSD',802.5,936,{rot:-90,size:26});
colorbar(819,825,732.5,1170,{vmin:164.2,vmax:244.6,vals:[240,230,220,210,200,190,180,170],lx:830});
scatterPanel({data:P4,l:999.2,r:1643.2,t:729,b:1175,xmin:154.2,xmax:250.7,ymin:-.00986,ymax:.0206,xt:[160,180,200,220,240],yt:[.02,.015,.01,.005,0,-.005,-.01],ydec:3,mean:193.67,cmin:86.4,cmax:114.76,lo:-22});
valBox(1230.6,1285.8,757,782,'193.67',true);meanLegend(1292.6,1349.7,764,1371.4,'Mean EVA at SHAP=0');
T('WSD values',1325,1218,{size:31});T(SV,917.4,954,{rot:-90,size:27,c:'#333'});T('EVA',1654,934,{rot:-90,size:26});
colorbar(1672.7,1677.6,729,1175,{vmin:86.4,vmax:114.76,vals:[110,105,100,95,90],lx:1681.6});
scatterPanel({data:P6,l:983.4,r:1625.5,t:1372.7,b:1815.5,xmin:.9501,xmax:.98445,ymin:-.0438,ymax:.03457,xt:[.955,.96,.965,.97,.975,.98],xdec:3,xf:21,yt:[.03,.02,.01,0,-.01,-.02,-.03,-.04],ydec:2,mean:.97535,cmin:93.5,cmax:121});
meanLegend(1007,1064,1402.5,1086,'Mean EVA at SHAP=0');valBox(1434.4,1476.8,1385,1409,'0.98');
T('VWC values',1326,1855,{size:31});T(SV,913,1594,{rot:-90,size:27,c:'#333'});T('EVA',1640.2,1582,{rot:-90,size:26});
colorbar(1660,1665.9,1372.7,1815.5,{vmin:93.5,vmax:121,vals:[120,115,110,105,100,95],labels:['120','115','110','105','90','95'],lx:1671.7});
scatterPanel({data:P7,l:120.6,r:778,t:1942,b:2384,xmin:70.3,xmax:126.5,ymin:-.0726,ymax:.01878,xt:[80,90,100,110,120],yt:[0,-.02,-.04,-.06],ydec:2,mean:99.89,cmin:164.5,cmax:245.5,lo:-2});
valBox(439,493,1938,1964,'99.89');meanLegend(434,491,2346,512,'Mean EVA at SHAP=0');
T('EVA values',460,2426,{size:31});T(SV,49.4,2162.5,{rot:-90,size:27,c:'#333'});T('WSD',802.5,2164.5,{rot:-90,size:26});
colorbar(820,825.5,1942,2384,{vmin:164.5,vmax:245.5,vals:[240,230,220,210,200,190,180,170],lx:831});
scatterPanel({data:P8,l:992.3,r:1636.3,t:1942,b:2388,xmin:151.3,xmax:253.3,ymin:-.01952,ymax:.0239,xt:[160,180,200,220,240],yt:[.02,.015,.01,.005,0,-.005,-.01,-.015],ydec:3,mean:179.19,cmin:.96685,cmax:.98075,lo:-11});
valBox(1137.5,1200,1961,1986,'179.19');meanLegend(1297.5,1353.7,2361.5,1375.8,'Mean EVA at SHAP=0');
T('WSD values',1332,2429,{size:31});T(SV,911.5,2165.6,{rot:-90,size:27,c:'#333'});T('VWC',1650,2178,{rot:-90,size:26});
colorbar(1662.5,1667.8,1942,2388,{vmin:.96685,vmax:.98075,vals:[.98,.978,.976,.974,.972,.97,.968],dec:3,lx:1673});
</script></body></html>
